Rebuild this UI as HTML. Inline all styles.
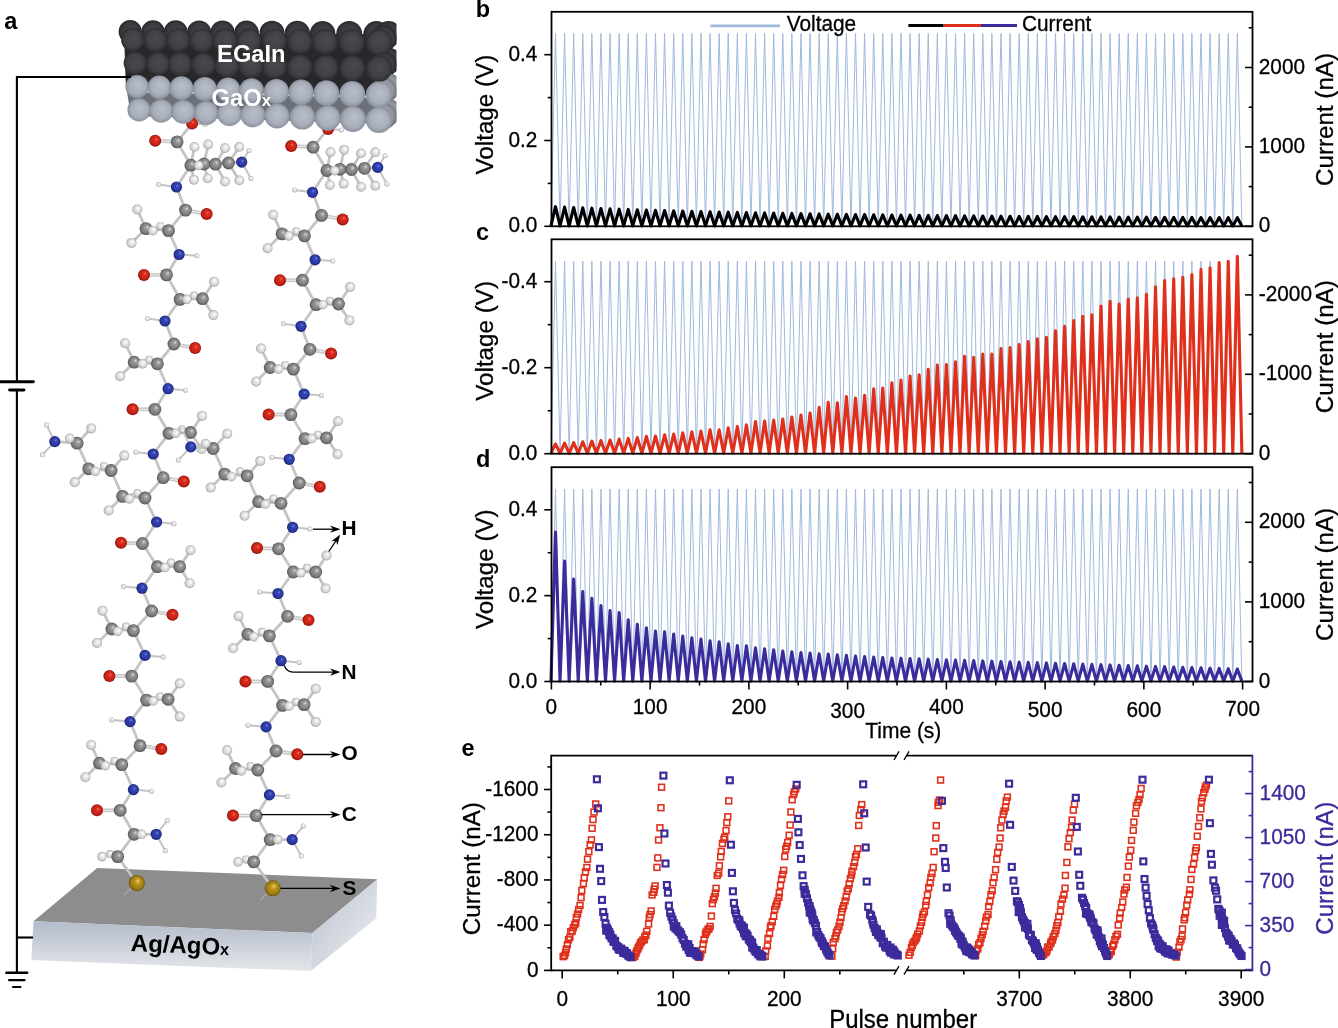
<!DOCTYPE html><html><head><meta charset="utf-8"><title>Figure</title><style>html,body{margin:0;padding:0;background:#fff;width:1338px;height:1028px;overflow:hidden}svg{display:block;will-change:transform}text{font-family:"Liberation Sans",sans-serif}</style></head><body><svg width="1338" height="1028" viewBox="0 0 1338 1028"><defs>
<radialGradient id="gC" cx="0.5" cy="0.5" r="0.5" fx="0.62" fy="0.36"><stop offset="0" stop-color="#dadada"/><stop offset="0.3" stop-color="#9a9a9a"/><stop offset="0.75" stop-color="#7c7c7c"/><stop offset="1" stop-color="#555555"/></radialGradient>
<radialGradient id="gO" cx="0.5" cy="0.5" r="0.5" fx="0.6" fy="0.36"><stop offset="0" stop-color="#f26a5c"/><stop offset="0.3" stop-color="#dc2c1e"/><stop offset="0.75" stop-color="#c42216"/><stop offset="1" stop-color="#8a120c"/></radialGradient>
<radialGradient id="gN" cx="0.5" cy="0.5" r="0.5" fx="0.6" fy="0.36"><stop offset="0" stop-color="#7282d8"/><stop offset="0.3" stop-color="#3444b2"/><stop offset="0.75" stop-color="#2a38a4"/><stop offset="1" stop-color="#18206e"/></radialGradient>
<radialGradient id="gH" cx="0.5" cy="0.5" r="0.5" fx="0.62" fy="0.36"><stop offset="0" stop-color="#ffffff"/><stop offset="0.35" stop-color="#ececec"/><stop offset="0.8" stop-color="#cfcfcf"/><stop offset="1" stop-color="#9c9c9c"/></radialGradient>
<radialGradient id="gS" cx="0.5" cy="0.5" r="0.5" fx="0.58" fy="0.34"><stop offset="0" stop-color="#eccd5a"/><stop offset="0.35" stop-color="#bb951e"/><stop offset="0.8" stop-color="#9c7a12"/><stop offset="1" stop-color="#6a520a"/></radialGradient>
<radialGradient id="gE" cx="0.5" cy="0.5" r="0.5" fx="0.55" fy="0.4"><stop offset="0" stop-color="#4a4a4e"/><stop offset="0.7" stop-color="#414145"/><stop offset="1" stop-color="#2e2e32"/></radialGradient>
<radialGradient id="gEb" cx="0.5" cy="0.5" r="0.5" fx="0.55" fy="0.4"><stop offset="0" stop-color="#444448"/><stop offset="0.7" stop-color="#3a3a3e"/><stop offset="1" stop-color="#28282c"/></radialGradient>
<radialGradient id="gG" cx="0.5" cy="0.5" r="0.5" fx="0.55" fy="0.4"><stop offset="0" stop-color="#b8bfc9"/><stop offset="0.7" stop-color="#a8afba"/><stop offset="1" stop-color="#8b929d"/></radialGradient>
<radialGradient id="gGb" cx="0.5" cy="0.5" r="0.5" fx="0.55" fy="0.4"><stop offset="0" stop-color="#9ea5b0"/><stop offset="0.7" stop-color="#8e95a0"/><stop offset="1" stop-color="#70767f"/></radialGradient>
<linearGradient id="gFront" x1="0" y1="0" x2="0" y2="1"><stop offset="0" stop-color="#b3bccb"/><stop offset="1" stop-color="#e4e6e9"/></linearGradient>
<linearGradient id="gSide" x1="0" y1="0" x2="1" y2="1"><stop offset="0" stop-color="#b8c0ce"/><stop offset="1" stop-color="#eef0f2"/></linearGradient>
</defs><rect width="1338" height="1028" fill="#fff"/><line x1="192.1" y1="123.6" x2="177.1" y2="141.9" stroke="#c4c4c4" stroke-width="2.8"/><line x1="192.1" y1="123.6" x2="205.2" y2="124.6" stroke="#c4c4c4" stroke-width="2.0"/><line x1="177.04" y1="143" x2="155.14" y2="141.8" stroke="#c9c9c9" stroke-width="1.6"/><line x1="177.16" y1="140.8" x2="155.26" y2="139.6" stroke="#c9c9c9" stroke-width="1.6"/><line x1="177.1" y1="141.9" x2="190.9" y2="165.2" stroke="#c4c4c4" stroke-width="2.8"/><line x1="190.9" y1="165.2" x2="204" y2="164" stroke="#c4c4c4" stroke-width="2.8"/><line x1="204" y1="164" x2="215.4" y2="164.2" stroke="#c4c4c4" stroke-width="2.8"/><line x1="215.4" y1="164.2" x2="228.5" y2="163" stroke="#c4c4c4" stroke-width="2.8"/><line x1="228.5" y1="163" x2="241.7" y2="162.1" stroke="#c4c4c4" stroke-width="2.8"/><line x1="241.7" y1="162.1" x2="250.9" y2="178.6" stroke="#c4c4c4" stroke-width="2.0"/><line x1="241.7" y1="162.1" x2="249" y2="150.5" stroke="#c4c4c4" stroke-width="2.0"/><line x1="190.9" y1="165.2" x2="194.5" y2="146.9" stroke="#c4c4c4" stroke-width="2.8"/><line x1="190.9" y1="165.2" x2="193.9" y2="179.8" stroke="#c4c4c4" stroke-width="2.8"/><line x1="204" y1="164" x2="208.2" y2="144.5" stroke="#c4c4c4" stroke-width="2.8"/><line x1="204" y1="164" x2="207.6" y2="178.4" stroke="#c4c4c4" stroke-width="2.8"/><line x1="215.4" y1="164.2" x2="225" y2="148.1" stroke="#c4c4c4" stroke-width="2.8"/><line x1="215.4" y1="164.2" x2="225" y2="181.6" stroke="#c4c4c4" stroke-width="2.8"/><line x1="228.5" y1="163" x2="239.3" y2="146.9" stroke="#c4c4c4" stroke-width="2.8"/><line x1="228.5" y1="163" x2="239.3" y2="180.4" stroke="#c4c4c4" stroke-width="2.8"/><line x1="190.9" y1="165.2" x2="176.5" y2="187" stroke="#c4c4c4" stroke-width="2.8"/><line x1="176.5" y1="187" x2="158.6" y2="184.6" stroke="#c4c4c4" stroke-width="2.0"/><line x1="176.5" y1="187" x2="185.5" y2="210.1" stroke="#c4c4c4" stroke-width="2.8"/><line x1="185.7" y1="209.02" x2="206.9" y2="213.02" stroke="#c9c9c9" stroke-width="1.6"/><line x1="185.3" y1="211.18" x2="206.5" y2="215.18" stroke="#c9c9c9" stroke-width="1.6"/><line x1="185.5" y1="210.1" x2="168.5" y2="230.6" stroke="#c4c4c4" stroke-width="2.8"/><line x1="168.5" y1="230.6" x2="146" y2="228.6" stroke="#c4c4c4" stroke-width="2.8"/><line x1="168.5" y1="230.6" x2="160.3" y2="225.9" stroke="#c4c4c4" stroke-width="2.0"/><line x1="146" y1="228.6" x2="137.2" y2="209.5" stroke="#c4c4c4" stroke-width="2.8"/><line x1="146" y1="228.6" x2="131.5" y2="242.9" stroke="#c4c4c4" stroke-width="2.8"/><line x1="168.5" y1="230.6" x2="179.1" y2="254.5" stroke="#c4c4c4" stroke-width="2.8"/><line x1="179.1" y1="254.5" x2="196.8" y2="255.8" stroke="#c4c4c4" stroke-width="2.0"/><line x1="179.1" y1="254.5" x2="166.5" y2="274.9" stroke="#c4c4c4" stroke-width="2.8"/><line x1="166.5" y1="276" x2="144" y2="276" stroke="#c9c9c9" stroke-width="1.6"/><line x1="166.5" y1="273.8" x2="144" y2="273.8" stroke="#c9c9c9" stroke-width="1.6"/><line x1="166.5" y1="274.9" x2="180.1" y2="299.4" stroke="#c4c4c4" stroke-width="2.8"/><line x1="180.1" y1="299.4" x2="202.5" y2="298.7" stroke="#c4c4c4" stroke-width="2.8"/><line x1="180.1" y1="299.4" x2="194" y2="295.5" stroke="#c4c4c4" stroke-width="2.0"/><line x1="202.5" y1="298.7" x2="214.1" y2="281.7" stroke="#c4c4c4" stroke-width="2.8"/><line x1="202.5" y1="298.7" x2="213.4" y2="315.1" stroke="#c4c4c4" stroke-width="2.8"/><line x1="180.1" y1="299.4" x2="165" y2="321" stroke="#c4c4c4" stroke-width="2.8"/><line x1="165" y1="321" x2="147.4" y2="318.5" stroke="#c4c4c4" stroke-width="2.0"/><line x1="165" y1="321" x2="173.9" y2="344" stroke="#c4c4c4" stroke-width="2.8"/><line x1="174.11" y1="342.92" x2="195.31" y2="347.02" stroke="#c9c9c9" stroke-width="1.6"/><line x1="173.69" y1="345.08" x2="194.89" y2="349.18" stroke="#c9c9c9" stroke-width="1.6"/><line x1="173.9" y1="344" x2="157.4" y2="363.8" stroke="#c4c4c4" stroke-width="2.8"/><line x1="157.4" y1="363.8" x2="134.2" y2="362.2" stroke="#c4c4c4" stroke-width="2.8"/><line x1="157.4" y1="363.8" x2="149.1" y2="359.7" stroke="#c4c4c4" stroke-width="2.0"/><line x1="134.2" y1="362.2" x2="125.1" y2="343.2" stroke="#c4c4c4" stroke-width="2.8"/><line x1="134.2" y1="362.2" x2="120.2" y2="376.2" stroke="#c4c4c4" stroke-width="2.8"/><line x1="157.4" y1="363.8" x2="168.1" y2="388.7" stroke="#c4c4c4" stroke-width="2.8"/><line x1="168.1" y1="388.7" x2="185.5" y2="390.3" stroke="#c4c4c4" stroke-width="2.0"/><line x1="168.1" y1="388.7" x2="154.9" y2="409.3" stroke="#c4c4c4" stroke-width="2.8"/><line x1="154.9" y1="410.4" x2="132.6" y2="410.4" stroke="#c9c9c9" stroke-width="1.6"/><line x1="154.9" y1="408.2" x2="132.6" y2="408.2" stroke="#c9c9c9" stroke-width="1.6"/><line x1="154.9" y1="409.3" x2="169" y2="433.3" stroke="#c4c4c4" stroke-width="2.8"/><line x1="169" y1="433.3" x2="190.5" y2="432.5" stroke="#c4c4c4" stroke-width="2.8"/><line x1="169" y1="433.3" x2="182" y2="429.5" stroke="#c4c4c4" stroke-width="2.0"/><line x1="190.5" y1="432.5" x2="202" y2="415.9" stroke="#c4c4c4" stroke-width="2.8"/><line x1="190.5" y1="432.5" x2="201.5" y2="449" stroke="#c4c4c4" stroke-width="2.8"/><line x1="169" y1="433.3" x2="153.2" y2="454" stroke="#c4c4c4" stroke-width="2.8"/><line x1="153.2" y1="454" x2="135.9" y2="452.3" stroke="#c4c4c4" stroke-width="2.0"/><line x1="153.2" y1="454" x2="163.2" y2="477.7" stroke="#c4c4c4" stroke-width="2.8"/><line x1="163.39" y1="476.62" x2="183.99" y2="480.32" stroke="#c9c9c9" stroke-width="1.6"/><line x1="163.01" y1="478.78" x2="183.61" y2="482.48" stroke="#c9c9c9" stroke-width="1.6"/><line x1="163.2" y1="477.7" x2="145" y2="498" stroke="#c4c4c4" stroke-width="2.8"/><line x1="145" y1="498" x2="122.6" y2="496.4" stroke="#c4c4c4" stroke-width="2.8"/><line x1="122.6" y1="496.4" x2="108.6" y2="510.5" stroke="#c4c4c4" stroke-width="2.8"/><line x1="122.6" y1="496.4" x2="137.5" y2="493.1" stroke="#c4c4c4" stroke-width="2.0"/><line x1="122.6" y1="496.4" x2="111.1" y2="470.5" stroke="#c4c4c4" stroke-width="2.8"/><line x1="111.1" y1="470.5" x2="124.3" y2="455.6" stroke="#c4c4c4" stroke-width="2.8"/><line x1="111.1" y1="470.5" x2="88.7" y2="468.8" stroke="#c4c4c4" stroke-width="2.8"/><line x1="88.7" y1="468.8" x2="74.7" y2="482.3" stroke="#c4c4c4" stroke-width="2.8"/><line x1="88.7" y1="468.8" x2="77.1" y2="443.2" stroke="#c4c4c4" stroke-width="2.8"/><line x1="77.1" y1="443.2" x2="91.2" y2="428.4" stroke="#c4c4c4" stroke-width="2.8"/><line x1="77.1" y1="443.2" x2="54.8" y2="441.6" stroke="#c4c4c4" stroke-width="2.8"/><line x1="54.8" y1="441.6" x2="46.5" y2="425" stroke="#c4c4c4" stroke-width="2.0"/><line x1="54.8" y1="441.6" x2="42.4" y2="454.8" stroke="#c4c4c4" stroke-width="2.0"/><line x1="145" y1="498" x2="156.6" y2="522" stroke="#c4c4c4" stroke-width="2.8"/><line x1="156.6" y1="522" x2="173.9" y2="523.7" stroke="#c4c4c4" stroke-width="2.0"/><line x1="156.6" y1="522" x2="142.5" y2="543.5" stroke="#c4c4c4" stroke-width="2.8"/><line x1="142.46" y1="544.6" x2="120.96" y2="543.8" stroke="#c9c9c9" stroke-width="1.6"/><line x1="142.54" y1="542.4" x2="121.04" y2="541.6" stroke="#c9c9c9" stroke-width="1.6"/><line x1="142.5" y1="543.5" x2="157.4" y2="566.7" stroke="#c4c4c4" stroke-width="2.8"/><line x1="157.4" y1="566.7" x2="179.7" y2="566.7" stroke="#c4c4c4" stroke-width="2.8"/><line x1="157.4" y1="566.7" x2="171" y2="562.5" stroke="#c4c4c4" stroke-width="2.0"/><line x1="179.7" y1="566.7" x2="190.5" y2="550.2" stroke="#c4c4c4" stroke-width="2.8"/><line x1="179.7" y1="566.7" x2="189.6" y2="583.2" stroke="#c4c4c4" stroke-width="2.8"/><line x1="157.4" y1="566.7" x2="142" y2="588.2" stroke="#c4c4c4" stroke-width="2.8"/><line x1="142" y1="588.2" x2="123.5" y2="586.6" stroke="#c4c4c4" stroke-width="2.0"/><line x1="142" y1="588.2" x2="151.6" y2="611" stroke="#c4c4c4" stroke-width="2.8"/><line x1="151.8" y1="609.92" x2="172.7" y2="613.72" stroke="#c9c9c9" stroke-width="1.6"/><line x1="151.4" y1="612.08" x2="172.3" y2="615.88" stroke="#c9c9c9" stroke-width="1.6"/><line x1="151.6" y1="611" x2="133.4" y2="630.6" stroke="#c4c4c4" stroke-width="2.8"/><line x1="133.4" y1="630.6" x2="111.9" y2="629" stroke="#c4c4c4" stroke-width="2.8"/><line x1="133.4" y1="630.6" x2="126" y2="626.5" stroke="#c4c4c4" stroke-width="2.0"/><line x1="111.9" y1="629" x2="102.5" y2="610.8" stroke="#c4c4c4" stroke-width="2.8"/><line x1="111.9" y1="629" x2="97" y2="643" stroke="#c4c4c4" stroke-width="2.8"/><line x1="133.4" y1="630.6" x2="145" y2="655.4" stroke="#c4c4c4" stroke-width="2.8"/><line x1="145" y1="655.4" x2="163.2" y2="657.1" stroke="#c4c4c4" stroke-width="2.0"/><line x1="145" y1="655.4" x2="131.7" y2="676.1" stroke="#c4c4c4" stroke-width="2.8"/><line x1="131.7" y1="677.2" x2="109.4" y2="677.2" stroke="#c9c9c9" stroke-width="1.6"/><line x1="131.7" y1="675" x2="109.4" y2="675" stroke="#c9c9c9" stroke-width="1.6"/><line x1="131.7" y1="676.1" x2="146.6" y2="700.1" stroke="#c4c4c4" stroke-width="2.8"/><line x1="146.6" y1="700.1" x2="168.1" y2="699.3" stroke="#c4c4c4" stroke-width="2.8"/><line x1="146.6" y1="700.1" x2="160" y2="696.5" stroke="#c4c4c4" stroke-width="2.0"/><line x1="168.1" y1="699.3" x2="179.7" y2="683.5" stroke="#c4c4c4" stroke-width="2.8"/><line x1="168.1" y1="699.3" x2="179.7" y2="716.6" stroke="#c4c4c4" stroke-width="2.8"/><line x1="146.6" y1="700.1" x2="130.1" y2="721.6" stroke="#c4c4c4" stroke-width="2.8"/><line x1="130.1" y1="721.6" x2="111.9" y2="719.9" stroke="#c4c4c4" stroke-width="2.0"/><line x1="130.1" y1="721.6" x2="140" y2="745.7" stroke="#c4c4c4" stroke-width="2.8"/><line x1="140.17" y1="744.61" x2="161.47" y2="747.91" stroke="#c9c9c9" stroke-width="1.6"/><line x1="139.83" y1="746.79" x2="161.13" y2="750.09" stroke="#c9c9c9" stroke-width="1.6"/><line x1="140" y1="745.7" x2="121.8" y2="764.7" stroke="#c4c4c4" stroke-width="2.8"/><line x1="121.8" y1="764.7" x2="99.5" y2="763.2" stroke="#c4c4c4" stroke-width="2.8"/><line x1="121.8" y1="764.7" x2="114.4" y2="760.7" stroke="#c4c4c4" stroke-width="2.0"/><line x1="99.5" y1="763.2" x2="91.2" y2="745" stroke="#c4c4c4" stroke-width="2.8"/><line x1="99.5" y1="763.2" x2="85.4" y2="777.2" stroke="#c4c4c4" stroke-width="2.8"/><line x1="121.8" y1="764.7" x2="133.4" y2="789.6" stroke="#c4c4c4" stroke-width="2.8"/><line x1="133.4" y1="789.6" x2="151.6" y2="791.3" stroke="#c4c4c4" stroke-width="2.0"/><line x1="133.4" y1="789.6" x2="120.2" y2="810.3" stroke="#c4c4c4" stroke-width="2.8"/><line x1="120.2" y1="811.4" x2="97" y2="811.4" stroke="#c9c9c9" stroke-width="1.6"/><line x1="120.2" y1="809.2" x2="97" y2="809.2" stroke="#c9c9c9" stroke-width="1.6"/><line x1="120.2" y1="810.3" x2="134.2" y2="834.3" stroke="#c4c4c4" stroke-width="2.8"/><line x1="134.2" y1="834.3" x2="156.2" y2="834.3" stroke="#c4c4c4" stroke-width="2.8"/><line x1="156.2" y1="834.3" x2="167.3" y2="820.6" stroke="#c4c4c4" stroke-width="2.0"/><line x1="156.2" y1="834.3" x2="165.3" y2="850.8" stroke="#c4c4c4" stroke-width="2.0"/><line x1="134.2" y1="834.3" x2="117.7" y2="856.6" stroke="#c4c4c4" stroke-width="2.8"/><line x1="117.7" y1="856.6" x2="110.2" y2="854.1" stroke="#c4c4c4" stroke-width="2.0"/><line x1="117.7" y1="856.6" x2="136.8" y2="883" stroke="#c4c4c4" stroke-width="2.8"/><line x1="136.8" y1="883" x2="123.8" y2="895" stroke="#b8b8b8" stroke-width="1.4" opacity="0.7"/><circle cx="160.3" cy="225.9" r="4.0" fill="url(#gH)"/><circle cx="194" cy="295.5" r="4.0" fill="url(#gH)"/><circle cx="149.1" cy="359.7" r="4.0" fill="url(#gH)"/><circle cx="182" cy="429.5" r="4.0" fill="url(#gH)"/><circle cx="137.5" cy="493.1" r="4.0" fill="url(#gH)"/><circle cx="104" cy="466" r="4.0" fill="url(#gH)"/><circle cx="171" cy="562.5" r="4.0" fill="url(#gH)"/><circle cx="126" cy="626.5" r="4.0" fill="url(#gH)"/><circle cx="160" cy="696.5" r="4.0" fill="url(#gH)"/><circle cx="114.4" cy="760.7" r="4.0" fill="url(#gH)"/><circle cx="110.2" cy="854.1" r="4.0" fill="url(#gH)"/><circle cx="205.2" cy="124.6" r="2.5" fill="url(#gH)"/><circle cx="250.9" cy="178.6" r="2.5" fill="url(#gH)"/><circle cx="249" cy="150.5" r="2.5" fill="url(#gH)"/><circle cx="158.6" cy="184.6" r="2.5" fill="url(#gH)"/><circle cx="196.8" cy="255.8" r="2.5" fill="url(#gH)"/><circle cx="147.4" cy="318.5" r="2.5" fill="url(#gH)"/><circle cx="185.5" cy="390.3" r="2.5" fill="url(#gH)"/><circle cx="135.9" cy="452.3" r="2.5" fill="url(#gH)"/><circle cx="46.5" cy="425" r="2.5" fill="url(#gH)"/><circle cx="42.4" cy="454.8" r="2.5" fill="url(#gH)"/><circle cx="173.9" cy="523.7" r="2.5" fill="url(#gH)"/><circle cx="123.5" cy="586.6" r="2.5" fill="url(#gH)"/><circle cx="163.2" cy="657.1" r="2.5" fill="url(#gH)"/><circle cx="111.9" cy="719.9" r="2.5" fill="url(#gH)"/><circle cx="151.6" cy="791.3" r="2.5" fill="url(#gH)"/><circle cx="167.3" cy="820.6" r="2.5" fill="url(#gH)"/><circle cx="165.3" cy="850.8" r="2.5" fill="url(#gH)"/><circle cx="194.5" cy="146.9" r="4.9" fill="url(#gH)"/><circle cx="208.2" cy="144.5" r="4.9" fill="url(#gH)"/><circle cx="225" cy="148.1" r="4.9" fill="url(#gH)"/><circle cx="239.3" cy="146.9" r="4.9" fill="url(#gH)"/><circle cx="193.9" cy="179.8" r="4.9" fill="url(#gH)"/><circle cx="207.6" cy="178.4" r="4.9" fill="url(#gH)"/><circle cx="225" cy="181.6" r="4.9" fill="url(#gH)"/><circle cx="239.3" cy="180.4" r="4.9" fill="url(#gH)"/><circle cx="137.2" cy="209.5" r="5.0" fill="url(#gH)"/><circle cx="131.5" cy="242.9" r="5.0" fill="url(#gH)"/><circle cx="214.1" cy="281.7" r="5.0" fill="url(#gH)"/><circle cx="213.4" cy="315.1" r="5.0" fill="url(#gH)"/><circle cx="125.1" cy="343.2" r="5.0" fill="url(#gH)"/><circle cx="120.2" cy="376.2" r="5.0" fill="url(#gH)"/><circle cx="202" cy="415.9" r="5.0" fill="url(#gH)"/><circle cx="201.5" cy="449" r="5.0" fill="url(#gH)"/><circle cx="108.6" cy="510.5" r="5.0" fill="url(#gH)"/><circle cx="124.3" cy="455.6" r="5.0" fill="url(#gH)"/><circle cx="74.7" cy="482.3" r="5.0" fill="url(#gH)"/><circle cx="91.2" cy="428.4" r="5.0" fill="url(#gH)"/><circle cx="190.5" cy="550.2" r="5.0" fill="url(#gH)"/><circle cx="189.6" cy="583.2" r="5.0" fill="url(#gH)"/><circle cx="102.5" cy="610.8" r="5.0" fill="url(#gH)"/><circle cx="97" cy="643" r="5.0" fill="url(#gH)"/><circle cx="179.7" cy="683.5" r="5.0" fill="url(#gH)"/><circle cx="179.7" cy="716.6" r="5.0" fill="url(#gH)"/><circle cx="91.2" cy="745" r="5.0" fill="url(#gH)"/><circle cx="85.4" cy="777.2" r="5.0" fill="url(#gH)"/><circle cx="192.1" cy="123.6" r="6.0" fill="url(#gO)"/><circle cx="177.1" cy="141.9" r="6.4" fill="url(#gC)"/><circle cx="155.2" cy="140.7" r="6.0" fill="url(#gO)"/><circle cx="190.9" cy="165.2" r="6.4" fill="url(#gC)"/><circle cx="204" cy="164" r="6.4" fill="url(#gC)"/><circle cx="215.4" cy="164.2" r="6.4" fill="url(#gC)"/><circle cx="228.5" cy="163" r="6.4" fill="url(#gC)"/><circle cx="241.7" cy="162.1" r="5.6" fill="url(#gN)"/><circle cx="176.5" cy="187" r="5.6" fill="url(#gN)"/><circle cx="185.5" cy="210.1" r="6.4" fill="url(#gC)"/><circle cx="206.7" cy="214.1" r="6.0" fill="url(#gO)"/><circle cx="168.5" cy="230.6" r="6.4" fill="url(#gC)"/><circle cx="146" cy="228.6" r="6.4" fill="url(#gC)"/><circle cx="179.1" cy="254.5" r="5.6" fill="url(#gN)"/><circle cx="166.5" cy="274.9" r="6.4" fill="url(#gC)"/><circle cx="144" cy="274.9" r="6.0" fill="url(#gO)"/><circle cx="180.1" cy="299.4" r="6.4" fill="url(#gC)"/><circle cx="202.5" cy="298.7" r="6.4" fill="url(#gC)"/><circle cx="165" cy="321" r="5.6" fill="url(#gN)"/><circle cx="173.9" cy="344" r="6.4" fill="url(#gC)"/><circle cx="195.1" cy="348.1" r="6.0" fill="url(#gO)"/><circle cx="157.4" cy="363.8" r="6.4" fill="url(#gC)"/><circle cx="134.2" cy="362.2" r="6.4" fill="url(#gC)"/><circle cx="168.1" cy="388.7" r="5.6" fill="url(#gN)"/><circle cx="154.9" cy="409.3" r="6.4" fill="url(#gC)"/><circle cx="132.6" cy="409.3" r="6.0" fill="url(#gO)"/><circle cx="169" cy="433.3" r="6.4" fill="url(#gC)"/><circle cx="190.5" cy="432.5" r="6.4" fill="url(#gC)"/><circle cx="153.2" cy="454" r="5.6" fill="url(#gN)"/><circle cx="163.2" cy="477.7" r="6.4" fill="url(#gC)"/><circle cx="183.8" cy="481.4" r="6.0" fill="url(#gO)"/><circle cx="145" cy="498" r="6.4" fill="url(#gC)"/><circle cx="122.6" cy="496.4" r="6.4" fill="url(#gC)"/><circle cx="111.1" cy="470.5" r="6.4" fill="url(#gC)"/><circle cx="88.7" cy="468.8" r="6.4" fill="url(#gC)"/><circle cx="77.1" cy="443.2" r="6.4" fill="url(#gC)"/><circle cx="54.8" cy="441.6" r="5.6" fill="url(#gN)"/><circle cx="156.6" cy="522" r="5.6" fill="url(#gN)"/><circle cx="142.5" cy="543.5" r="6.4" fill="url(#gC)"/><circle cx="121" cy="542.7" r="6.0" fill="url(#gO)"/><circle cx="157.4" cy="566.7" r="6.4" fill="url(#gC)"/><circle cx="179.7" cy="566.7" r="6.4" fill="url(#gC)"/><circle cx="142" cy="588.2" r="5.6" fill="url(#gN)"/><circle cx="151.6" cy="611" r="6.4" fill="url(#gC)"/><circle cx="172.5" cy="614.8" r="6.0" fill="url(#gO)"/><circle cx="133.4" cy="630.6" r="6.4" fill="url(#gC)"/><circle cx="111.9" cy="629" r="6.4" fill="url(#gC)"/><circle cx="145" cy="655.4" r="5.6" fill="url(#gN)"/><circle cx="131.7" cy="676.1" r="6.4" fill="url(#gC)"/><circle cx="109.4" cy="676.1" r="6.0" fill="url(#gO)"/><circle cx="146.6" cy="700.1" r="6.4" fill="url(#gC)"/><circle cx="168.1" cy="699.3" r="6.4" fill="url(#gC)"/><circle cx="130.1" cy="721.6" r="5.6" fill="url(#gN)"/><circle cx="140" cy="745.7" r="6.4" fill="url(#gC)"/><circle cx="161.3" cy="749" r="6.0" fill="url(#gO)"/><circle cx="121.8" cy="764.7" r="6.4" fill="url(#gC)"/><circle cx="99.5" cy="763.2" r="6.4" fill="url(#gC)"/><circle cx="133.4" cy="789.6" r="5.6" fill="url(#gN)"/><circle cx="120.2" cy="810.3" r="6.4" fill="url(#gC)"/><circle cx="97" cy="810.3" r="6.0" fill="url(#gO)"/><circle cx="134.2" cy="834.3" r="6.4" fill="url(#gC)"/><circle cx="156.2" cy="834.3" r="5.6" fill="url(#gN)"/><circle cx="117.7" cy="856.6" r="6.4" fill="url(#gC)"/><circle cx="136.8" cy="883" r="8.0" fill="url(#gS)"/><circle cx="198.7" cy="165.4" r="4.8" fill="url(#gH)"/><circle cx="152.8" cy="230.6" r="4.8" fill="url(#gH)"/><circle cx="186.9" cy="299.4" r="4.8" fill="url(#gH)"/><circle cx="142.5" cy="363.8" r="4.8" fill="url(#gH)"/><circle cx="175.6" cy="433.3" r="4.8" fill="url(#gH)"/><circle cx="129.3" cy="498.9" r="4.8" fill="url(#gH)"/><circle cx="95.3" cy="471.3" r="4.8" fill="url(#gH)"/><circle cx="69.7" cy="438.3" r="4.8" fill="url(#gH)"/><circle cx="164.8" cy="567.5" r="4.8" fill="url(#gH)"/><circle cx="117.7" cy="631.4" r="4.8" fill="url(#gH)"/><circle cx="153.2" cy="700.9" r="4.8" fill="url(#gH)"/><circle cx="105.3" cy="765.6" r="4.8" fill="url(#gH)"/><circle cx="141.7" cy="834.3" r="4.8" fill="url(#gH)"/><circle cx="102" cy="856.6" r="4.8" fill="url(#gH)"/><line x1="328.1" y1="128.9" x2="313.1" y2="147.2" stroke="#c4c4c4" stroke-width="2.8"/><line x1="328.1" y1="128.9" x2="341.2" y2="129.9" stroke="#c4c4c4" stroke-width="2.0"/><line x1="313.04" y1="148.3" x2="291.14" y2="147.1" stroke="#c9c9c9" stroke-width="1.6"/><line x1="313.16" y1="146.1" x2="291.26" y2="144.9" stroke="#c9c9c9" stroke-width="1.6"/><line x1="313.1" y1="147.2" x2="326.9" y2="170.5" stroke="#c4c4c4" stroke-width="2.8"/><line x1="326.9" y1="170.5" x2="340" y2="169.3" stroke="#c4c4c4" stroke-width="2.8"/><line x1="340" y1="169.3" x2="351.4" y2="169.5" stroke="#c4c4c4" stroke-width="2.8"/><line x1="351.4" y1="169.5" x2="364.5" y2="168.3" stroke="#c4c4c4" stroke-width="2.8"/><line x1="364.5" y1="168.3" x2="377.7" y2="167.4" stroke="#c4c4c4" stroke-width="2.8"/><line x1="377.7" y1="167.4" x2="386.9" y2="183.9" stroke="#c4c4c4" stroke-width="2.0"/><line x1="377.7" y1="167.4" x2="385" y2="155.8" stroke="#c4c4c4" stroke-width="2.0"/><line x1="326.9" y1="170.5" x2="330.5" y2="152.2" stroke="#c4c4c4" stroke-width="2.8"/><line x1="326.9" y1="170.5" x2="329.9" y2="185.1" stroke="#c4c4c4" stroke-width="2.8"/><line x1="340" y1="169.3" x2="344.2" y2="149.8" stroke="#c4c4c4" stroke-width="2.8"/><line x1="340" y1="169.3" x2="343.6" y2="183.7" stroke="#c4c4c4" stroke-width="2.8"/><line x1="351.4" y1="169.5" x2="361" y2="153.4" stroke="#c4c4c4" stroke-width="2.8"/><line x1="351.4" y1="169.5" x2="361" y2="186.9" stroke="#c4c4c4" stroke-width="2.8"/><line x1="364.5" y1="168.3" x2="375.3" y2="152.2" stroke="#c4c4c4" stroke-width="2.8"/><line x1="364.5" y1="168.3" x2="375.3" y2="185.7" stroke="#c4c4c4" stroke-width="2.8"/><line x1="326.9" y1="170.5" x2="312.5" y2="192.3" stroke="#c4c4c4" stroke-width="2.8"/><line x1="312.5" y1="192.3" x2="294.6" y2="189.9" stroke="#c4c4c4" stroke-width="2.0"/><line x1="312.5" y1="192.3" x2="321.5" y2="215.4" stroke="#c4c4c4" stroke-width="2.8"/><line x1="321.7" y1="214.32" x2="342.9" y2="218.32" stroke="#c9c9c9" stroke-width="1.6"/><line x1="321.3" y1="216.48" x2="342.5" y2="220.48" stroke="#c9c9c9" stroke-width="1.6"/><line x1="321.5" y1="215.4" x2="304.5" y2="235.9" stroke="#c4c4c4" stroke-width="2.8"/><line x1="304.5" y1="235.9" x2="282" y2="233.9" stroke="#c4c4c4" stroke-width="2.8"/><line x1="304.5" y1="235.9" x2="296.3" y2="231.2" stroke="#c4c4c4" stroke-width="2.0"/><line x1="282" y1="233.9" x2="273.2" y2="214.8" stroke="#c4c4c4" stroke-width="2.8"/><line x1="282" y1="233.9" x2="267.5" y2="248.2" stroke="#c4c4c4" stroke-width="2.8"/><line x1="304.5" y1="235.9" x2="315.1" y2="259.8" stroke="#c4c4c4" stroke-width="2.8"/><line x1="315.1" y1="259.8" x2="332.8" y2="261.1" stroke="#c4c4c4" stroke-width="2.0"/><line x1="315.1" y1="259.8" x2="302.5" y2="280.2" stroke="#c4c4c4" stroke-width="2.8"/><line x1="302.5" y1="281.3" x2="280" y2="281.3" stroke="#c9c9c9" stroke-width="1.6"/><line x1="302.5" y1="279.1" x2="280" y2="279.1" stroke="#c9c9c9" stroke-width="1.6"/><line x1="302.5" y1="280.2" x2="316.1" y2="304.7" stroke="#c4c4c4" stroke-width="2.8"/><line x1="316.1" y1="304.7" x2="338.5" y2="304" stroke="#c4c4c4" stroke-width="2.8"/><line x1="316.1" y1="304.7" x2="330" y2="300.8" stroke="#c4c4c4" stroke-width="2.0"/><line x1="338.5" y1="304" x2="350.1" y2="287" stroke="#c4c4c4" stroke-width="2.8"/><line x1="338.5" y1="304" x2="349.4" y2="320.4" stroke="#c4c4c4" stroke-width="2.8"/><line x1="316.1" y1="304.7" x2="301" y2="326.3" stroke="#c4c4c4" stroke-width="2.8"/><line x1="301" y1="326.3" x2="283.4" y2="323.8" stroke="#c4c4c4" stroke-width="2.0"/><line x1="301" y1="326.3" x2="309.9" y2="349.3" stroke="#c4c4c4" stroke-width="2.8"/><line x1="310.11" y1="348.22" x2="331.31" y2="352.32" stroke="#c9c9c9" stroke-width="1.6"/><line x1="309.69" y1="350.38" x2="330.89" y2="354.48" stroke="#c9c9c9" stroke-width="1.6"/><line x1="309.9" y1="349.3" x2="293.4" y2="369.1" stroke="#c4c4c4" stroke-width="2.8"/><line x1="293.4" y1="369.1" x2="270.2" y2="367.5" stroke="#c4c4c4" stroke-width="2.8"/><line x1="293.4" y1="369.1" x2="285.1" y2="365" stroke="#c4c4c4" stroke-width="2.0"/><line x1="270.2" y1="367.5" x2="261.1" y2="348.5" stroke="#c4c4c4" stroke-width="2.8"/><line x1="270.2" y1="367.5" x2="256.2" y2="381.5" stroke="#c4c4c4" stroke-width="2.8"/><line x1="293.4" y1="369.1" x2="304.1" y2="394" stroke="#c4c4c4" stroke-width="2.8"/><line x1="304.1" y1="394" x2="321.5" y2="395.6" stroke="#c4c4c4" stroke-width="2.0"/><line x1="304.1" y1="394" x2="290.9" y2="414.6" stroke="#c4c4c4" stroke-width="2.8"/><line x1="290.9" y1="415.7" x2="268.6" y2="415.7" stroke="#c9c9c9" stroke-width="1.6"/><line x1="290.9" y1="413.5" x2="268.6" y2="413.5" stroke="#c9c9c9" stroke-width="1.6"/><line x1="290.9" y1="414.6" x2="305" y2="438.6" stroke="#c4c4c4" stroke-width="2.8"/><line x1="305" y1="438.6" x2="326.5" y2="437.8" stroke="#c4c4c4" stroke-width="2.8"/><line x1="305" y1="438.6" x2="318" y2="434.8" stroke="#c4c4c4" stroke-width="2.0"/><line x1="326.5" y1="437.8" x2="338" y2="421.2" stroke="#c4c4c4" stroke-width="2.8"/><line x1="326.5" y1="437.8" x2="337.5" y2="454.3" stroke="#c4c4c4" stroke-width="2.8"/><line x1="305" y1="438.6" x2="289.2" y2="459.3" stroke="#c4c4c4" stroke-width="2.8"/><line x1="289.2" y1="459.3" x2="271.9" y2="457.6" stroke="#c4c4c4" stroke-width="2.0"/><line x1="289.2" y1="459.3" x2="299.2" y2="483" stroke="#c4c4c4" stroke-width="2.8"/><line x1="299.39" y1="481.92" x2="319.99" y2="485.62" stroke="#c9c9c9" stroke-width="1.6"/><line x1="299.01" y1="484.08" x2="319.61" y2="487.78" stroke="#c9c9c9" stroke-width="1.6"/><line x1="299.2" y1="483" x2="281" y2="503.3" stroke="#c4c4c4" stroke-width="2.8"/><line x1="281" y1="503.3" x2="258.6" y2="501.7" stroke="#c4c4c4" stroke-width="2.8"/><line x1="258.6" y1="501.7" x2="244.6" y2="515.8" stroke="#c4c4c4" stroke-width="2.8"/><line x1="258.6" y1="501.7" x2="273.5" y2="498.4" stroke="#c4c4c4" stroke-width="2.0"/><line x1="258.6" y1="501.7" x2="247.1" y2="475.8" stroke="#c4c4c4" stroke-width="2.8"/><line x1="247.1" y1="475.8" x2="260.3" y2="460.9" stroke="#c4c4c4" stroke-width="2.8"/><line x1="247.1" y1="475.8" x2="224.7" y2="474.1" stroke="#c4c4c4" stroke-width="2.8"/><line x1="224.7" y1="474.1" x2="210.7" y2="487.6" stroke="#c4c4c4" stroke-width="2.8"/><line x1="224.7" y1="474.1" x2="213.1" y2="448.5" stroke="#c4c4c4" stroke-width="2.8"/><line x1="213.1" y1="448.5" x2="227.2" y2="433.7" stroke="#c4c4c4" stroke-width="2.8"/><line x1="213.1" y1="448.5" x2="190.8" y2="446.9" stroke="#c4c4c4" stroke-width="2.8"/><line x1="190.8" y1="446.9" x2="182.5" y2="430.3" stroke="#c4c4c4" stroke-width="2.0"/><line x1="190.8" y1="446.9" x2="178.4" y2="460.1" stroke="#c4c4c4" stroke-width="2.0"/><line x1="281" y1="503.3" x2="292.6" y2="527.3" stroke="#c4c4c4" stroke-width="2.8"/><line x1="292.6" y1="527.3" x2="309.9" y2="529" stroke="#c4c4c4" stroke-width="2.0"/><line x1="292.6" y1="527.3" x2="278.5" y2="548.8" stroke="#c4c4c4" stroke-width="2.8"/><line x1="278.46" y1="549.9" x2="256.96" y2="549.1" stroke="#c9c9c9" stroke-width="1.6"/><line x1="278.54" y1="547.7" x2="257.04" y2="546.9" stroke="#c9c9c9" stroke-width="1.6"/><line x1="278.5" y1="548.8" x2="293.4" y2="572" stroke="#c4c4c4" stroke-width="2.8"/><line x1="293.4" y1="572" x2="315.7" y2="572" stroke="#c4c4c4" stroke-width="2.8"/><line x1="293.4" y1="572" x2="307" y2="567.8" stroke="#c4c4c4" stroke-width="2.0"/><line x1="315.7" y1="572" x2="326.5" y2="555.5" stroke="#c4c4c4" stroke-width="2.8"/><line x1="315.7" y1="572" x2="325.6" y2="588.5" stroke="#c4c4c4" stroke-width="2.8"/><line x1="293.4" y1="572" x2="278" y2="593.5" stroke="#c4c4c4" stroke-width="2.8"/><line x1="278" y1="593.5" x2="259.5" y2="591.9" stroke="#c4c4c4" stroke-width="2.0"/><line x1="278" y1="593.5" x2="287.6" y2="616.3" stroke="#c4c4c4" stroke-width="2.8"/><line x1="287.8" y1="615.22" x2="308.7" y2="619.02" stroke="#c9c9c9" stroke-width="1.6"/><line x1="287.4" y1="617.38" x2="308.3" y2="621.18" stroke="#c9c9c9" stroke-width="1.6"/><line x1="287.6" y1="616.3" x2="269.4" y2="635.9" stroke="#c4c4c4" stroke-width="2.8"/><line x1="269.4" y1="635.9" x2="247.9" y2="634.3" stroke="#c4c4c4" stroke-width="2.8"/><line x1="269.4" y1="635.9" x2="262" y2="631.8" stroke="#c4c4c4" stroke-width="2.0"/><line x1="247.9" y1="634.3" x2="238.5" y2="616.1" stroke="#c4c4c4" stroke-width="2.8"/><line x1="247.9" y1="634.3" x2="233" y2="648.3" stroke="#c4c4c4" stroke-width="2.8"/><line x1="269.4" y1="635.9" x2="281" y2="660.7" stroke="#c4c4c4" stroke-width="2.8"/><line x1="281" y1="660.7" x2="299.2" y2="662.4" stroke="#c4c4c4" stroke-width="2.0"/><line x1="281" y1="660.7" x2="267.7" y2="681.4" stroke="#c4c4c4" stroke-width="2.8"/><line x1="267.7" y1="682.5" x2="245.4" y2="682.5" stroke="#c9c9c9" stroke-width="1.6"/><line x1="267.7" y1="680.3" x2="245.4" y2="680.3" stroke="#c9c9c9" stroke-width="1.6"/><line x1="267.7" y1="681.4" x2="282.6" y2="705.4" stroke="#c4c4c4" stroke-width="2.8"/><line x1="282.6" y1="705.4" x2="304.1" y2="704.6" stroke="#c4c4c4" stroke-width="2.8"/><line x1="282.6" y1="705.4" x2="296" y2="701.8" stroke="#c4c4c4" stroke-width="2.0"/><line x1="304.1" y1="704.6" x2="315.7" y2="688.8" stroke="#c4c4c4" stroke-width="2.8"/><line x1="304.1" y1="704.6" x2="315.7" y2="721.9" stroke="#c4c4c4" stroke-width="2.8"/><line x1="282.6" y1="705.4" x2="266.1" y2="726.9" stroke="#c4c4c4" stroke-width="2.8"/><line x1="266.1" y1="726.9" x2="247.9" y2="725.2" stroke="#c4c4c4" stroke-width="2.0"/><line x1="266.1" y1="726.9" x2="276" y2="751" stroke="#c4c4c4" stroke-width="2.8"/><line x1="276.17" y1="749.91" x2="297.47" y2="753.21" stroke="#c9c9c9" stroke-width="1.6"/><line x1="275.83" y1="752.09" x2="297.13" y2="755.39" stroke="#c9c9c9" stroke-width="1.6"/><line x1="276" y1="751" x2="257.8" y2="770" stroke="#c4c4c4" stroke-width="2.8"/><line x1="257.8" y1="770" x2="235.5" y2="768.5" stroke="#c4c4c4" stroke-width="2.8"/><line x1="257.8" y1="770" x2="250.4" y2="766" stroke="#c4c4c4" stroke-width="2.0"/><line x1="235.5" y1="768.5" x2="227.2" y2="750.3" stroke="#c4c4c4" stroke-width="2.8"/><line x1="235.5" y1="768.5" x2="221.4" y2="782.5" stroke="#c4c4c4" stroke-width="2.8"/><line x1="257.8" y1="770" x2="269.4" y2="794.9" stroke="#c4c4c4" stroke-width="2.8"/><line x1="269.4" y1="794.9" x2="287.6" y2="796.6" stroke="#c4c4c4" stroke-width="2.0"/><line x1="269.4" y1="794.9" x2="256.2" y2="815.6" stroke="#c4c4c4" stroke-width="2.8"/><line x1="256.2" y1="816.7" x2="233" y2="816.7" stroke="#c9c9c9" stroke-width="1.6"/><line x1="256.2" y1="814.5" x2="233" y2="814.5" stroke="#c9c9c9" stroke-width="1.6"/><line x1="256.2" y1="815.6" x2="270.2" y2="839.6" stroke="#c4c4c4" stroke-width="2.8"/><line x1="270.2" y1="839.6" x2="292.2" y2="839.6" stroke="#c4c4c4" stroke-width="2.8"/><line x1="292.2" y1="839.6" x2="303.3" y2="825.9" stroke="#c4c4c4" stroke-width="2.0"/><line x1="292.2" y1="839.6" x2="301.3" y2="856.1" stroke="#c4c4c4" stroke-width="2.0"/><line x1="270.2" y1="839.6" x2="253.7" y2="861.9" stroke="#c4c4c4" stroke-width="2.8"/><line x1="253.7" y1="861.9" x2="246.2" y2="859.4" stroke="#c4c4c4" stroke-width="2.0"/><line x1="253.7" y1="861.9" x2="272.8" y2="888.3" stroke="#c4c4c4" stroke-width="2.8"/><line x1="272.8" y1="888.3" x2="259.8" y2="900.3" stroke="#b8b8b8" stroke-width="1.4" opacity="0.7"/><circle cx="296.3" cy="231.2" r="4.0" fill="url(#gH)"/><circle cx="330" cy="300.8" r="4.0" fill="url(#gH)"/><circle cx="285.1" cy="365" r="4.0" fill="url(#gH)"/><circle cx="318" cy="434.8" r="4.0" fill="url(#gH)"/><circle cx="273.5" cy="498.4" r="4.0" fill="url(#gH)"/><circle cx="240" cy="471.3" r="4.0" fill="url(#gH)"/><circle cx="307" cy="567.8" r="4.0" fill="url(#gH)"/><circle cx="262" cy="631.8" r="4.0" fill="url(#gH)"/><circle cx="296" cy="701.8" r="4.0" fill="url(#gH)"/><circle cx="250.4" cy="766" r="4.0" fill="url(#gH)"/><circle cx="246.2" cy="859.4" r="4.0" fill="url(#gH)"/><circle cx="341.2" cy="129.9" r="2.5" fill="url(#gH)"/><circle cx="386.9" cy="183.9" r="2.5" fill="url(#gH)"/><circle cx="385" cy="155.8" r="2.5" fill="url(#gH)"/><circle cx="294.6" cy="189.9" r="2.5" fill="url(#gH)"/><circle cx="332.8" cy="261.1" r="2.5" fill="url(#gH)"/><circle cx="283.4" cy="323.8" r="2.5" fill="url(#gH)"/><circle cx="321.5" cy="395.6" r="2.5" fill="url(#gH)"/><circle cx="271.9" cy="457.6" r="2.5" fill="url(#gH)"/><circle cx="182.5" cy="430.3" r="2.5" fill="url(#gH)"/><circle cx="178.4" cy="460.1" r="2.5" fill="url(#gH)"/><circle cx="309.9" cy="529" r="2.5" fill="url(#gH)"/><circle cx="259.5" cy="591.9" r="2.5" fill="url(#gH)"/><circle cx="299.2" cy="662.4" r="2.5" fill="url(#gH)"/><circle cx="247.9" cy="725.2" r="2.5" fill="url(#gH)"/><circle cx="287.6" cy="796.6" r="2.5" fill="url(#gH)"/><circle cx="303.3" cy="825.9" r="2.5" fill="url(#gH)"/><circle cx="301.3" cy="856.1" r="2.5" fill="url(#gH)"/><circle cx="330.5" cy="152.2" r="4.9" fill="url(#gH)"/><circle cx="344.2" cy="149.8" r="4.9" fill="url(#gH)"/><circle cx="361" cy="153.4" r="4.9" fill="url(#gH)"/><circle cx="375.3" cy="152.2" r="4.9" fill="url(#gH)"/><circle cx="329.9" cy="185.1" r="4.9" fill="url(#gH)"/><circle cx="343.6" cy="183.7" r="4.9" fill="url(#gH)"/><circle cx="361" cy="186.9" r="4.9" fill="url(#gH)"/><circle cx="375.3" cy="185.7" r="4.9" fill="url(#gH)"/><circle cx="273.2" cy="214.8" r="5.0" fill="url(#gH)"/><circle cx="267.5" cy="248.2" r="5.0" fill="url(#gH)"/><circle cx="350.1" cy="287" r="5.0" fill="url(#gH)"/><circle cx="349.4" cy="320.4" r="5.0" fill="url(#gH)"/><circle cx="261.1" cy="348.5" r="5.0" fill="url(#gH)"/><circle cx="256.2" cy="381.5" r="5.0" fill="url(#gH)"/><circle cx="338" cy="421.2" r="5.0" fill="url(#gH)"/><circle cx="337.5" cy="454.3" r="5.0" fill="url(#gH)"/><circle cx="244.6" cy="515.8" r="5.0" fill="url(#gH)"/><circle cx="260.3" cy="460.9" r="5.0" fill="url(#gH)"/><circle cx="210.7" cy="487.6" r="5.0" fill="url(#gH)"/><circle cx="227.2" cy="433.7" r="5.0" fill="url(#gH)"/><circle cx="326.5" cy="555.5" r="5.0" fill="url(#gH)"/><circle cx="325.6" cy="588.5" r="5.0" fill="url(#gH)"/><circle cx="238.5" cy="616.1" r="5.0" fill="url(#gH)"/><circle cx="233" cy="648.3" r="5.0" fill="url(#gH)"/><circle cx="315.7" cy="688.8" r="5.0" fill="url(#gH)"/><circle cx="315.7" cy="721.9" r="5.0" fill="url(#gH)"/><circle cx="227.2" cy="750.3" r="5.0" fill="url(#gH)"/><circle cx="221.4" cy="782.5" r="5.0" fill="url(#gH)"/><circle cx="328.1" cy="128.9" r="6.0" fill="url(#gO)"/><circle cx="313.1" cy="147.2" r="6.4" fill="url(#gC)"/><circle cx="291.2" cy="146" r="6.0" fill="url(#gO)"/><circle cx="326.9" cy="170.5" r="6.4" fill="url(#gC)"/><circle cx="340" cy="169.3" r="6.4" fill="url(#gC)"/><circle cx="351.4" cy="169.5" r="6.4" fill="url(#gC)"/><circle cx="364.5" cy="168.3" r="6.4" fill="url(#gC)"/><circle cx="377.7" cy="167.4" r="5.6" fill="url(#gN)"/><circle cx="312.5" cy="192.3" r="5.6" fill="url(#gN)"/><circle cx="321.5" cy="215.4" r="6.4" fill="url(#gC)"/><circle cx="342.7" cy="219.4" r="6.0" fill="url(#gO)"/><circle cx="304.5" cy="235.9" r="6.4" fill="url(#gC)"/><circle cx="282" cy="233.9" r="6.4" fill="url(#gC)"/><circle cx="315.1" cy="259.8" r="5.6" fill="url(#gN)"/><circle cx="302.5" cy="280.2" r="6.4" fill="url(#gC)"/><circle cx="280" cy="280.2" r="6.0" fill="url(#gO)"/><circle cx="316.1" cy="304.7" r="6.4" fill="url(#gC)"/><circle cx="338.5" cy="304" r="6.4" fill="url(#gC)"/><circle cx="301" cy="326.3" r="5.6" fill="url(#gN)"/><circle cx="309.9" cy="349.3" r="6.4" fill="url(#gC)"/><circle cx="331.1" cy="353.4" r="6.0" fill="url(#gO)"/><circle cx="293.4" cy="369.1" r="6.4" fill="url(#gC)"/><circle cx="270.2" cy="367.5" r="6.4" fill="url(#gC)"/><circle cx="304.1" cy="394" r="5.6" fill="url(#gN)"/><circle cx="290.9" cy="414.6" r="6.4" fill="url(#gC)"/><circle cx="268.6" cy="414.6" r="6.0" fill="url(#gO)"/><circle cx="305" cy="438.6" r="6.4" fill="url(#gC)"/><circle cx="326.5" cy="437.8" r="6.4" fill="url(#gC)"/><circle cx="289.2" cy="459.3" r="5.6" fill="url(#gN)"/><circle cx="299.2" cy="483" r="6.4" fill="url(#gC)"/><circle cx="319.8" cy="486.7" r="6.0" fill="url(#gO)"/><circle cx="281" cy="503.3" r="6.4" fill="url(#gC)"/><circle cx="258.6" cy="501.7" r="6.4" fill="url(#gC)"/><circle cx="247.1" cy="475.8" r="6.4" fill="url(#gC)"/><circle cx="224.7" cy="474.1" r="6.4" fill="url(#gC)"/><circle cx="213.1" cy="448.5" r="6.4" fill="url(#gC)"/><circle cx="190.8" cy="446.9" r="5.6" fill="url(#gN)"/><circle cx="292.6" cy="527.3" r="5.6" fill="url(#gN)"/><circle cx="278.5" cy="548.8" r="6.4" fill="url(#gC)"/><circle cx="257" cy="548" r="6.0" fill="url(#gO)"/><circle cx="293.4" cy="572" r="6.4" fill="url(#gC)"/><circle cx="315.7" cy="572" r="6.4" fill="url(#gC)"/><circle cx="278" cy="593.5" r="5.6" fill="url(#gN)"/><circle cx="287.6" cy="616.3" r="6.4" fill="url(#gC)"/><circle cx="308.5" cy="620.1" r="6.0" fill="url(#gO)"/><circle cx="269.4" cy="635.9" r="6.4" fill="url(#gC)"/><circle cx="247.9" cy="634.3" r="6.4" fill="url(#gC)"/><circle cx="281" cy="660.7" r="5.6" fill="url(#gN)"/><circle cx="267.7" cy="681.4" r="6.4" fill="url(#gC)"/><circle cx="245.4" cy="681.4" r="6.0" fill="url(#gO)"/><circle cx="282.6" cy="705.4" r="6.4" fill="url(#gC)"/><circle cx="304.1" cy="704.6" r="6.4" fill="url(#gC)"/><circle cx="266.1" cy="726.9" r="5.6" fill="url(#gN)"/><circle cx="276" cy="751" r="6.4" fill="url(#gC)"/><circle cx="297.3" cy="754.3" r="6.0" fill="url(#gO)"/><circle cx="257.8" cy="770" r="6.4" fill="url(#gC)"/><circle cx="235.5" cy="768.5" r="6.4" fill="url(#gC)"/><circle cx="269.4" cy="794.9" r="5.6" fill="url(#gN)"/><circle cx="256.2" cy="815.6" r="6.4" fill="url(#gC)"/><circle cx="233" cy="815.6" r="6.0" fill="url(#gO)"/><circle cx="270.2" cy="839.6" r="6.4" fill="url(#gC)"/><circle cx="292.2" cy="839.6" r="5.6" fill="url(#gN)"/><circle cx="253.7" cy="861.9" r="6.4" fill="url(#gC)"/><circle cx="272.8" cy="888.3" r="8.0" fill="url(#gS)"/><circle cx="334.7" cy="170.7" r="4.8" fill="url(#gH)"/><circle cx="288.8" cy="235.9" r="4.8" fill="url(#gH)"/><circle cx="322.9" cy="304.7" r="4.8" fill="url(#gH)"/><circle cx="278.5" cy="369.1" r="4.8" fill="url(#gH)"/><circle cx="311.6" cy="438.6" r="4.8" fill="url(#gH)"/><circle cx="265.3" cy="504.2" r="4.8" fill="url(#gH)"/><circle cx="231.3" cy="476.6" r="4.8" fill="url(#gH)"/><circle cx="205.7" cy="443.6" r="4.8" fill="url(#gH)"/><circle cx="300.8" cy="572.8" r="4.8" fill="url(#gH)"/><circle cx="253.7" cy="636.7" r="4.8" fill="url(#gH)"/><circle cx="289.2" cy="706.2" r="4.8" fill="url(#gH)"/><circle cx="241.3" cy="770.9" r="4.8" fill="url(#gH)"/><circle cx="277.7" cy="839.6" r="4.8" fill="url(#gH)"/><circle cx="238" cy="861.9" r="4.8" fill="url(#gH)"/><clipPath id="slabclip"><rect x="110" y="0" width="286.5" height="140"/></clipPath><g clip-path="url(#slabclip)"><polygon points="124,34 392,34 392,96 126,90" fill="#28282b"/><polygon points="127,92 392,98 392,124 131,116" fill="#6c7179"/><circle cx="130.2" cy="31.7" r="11.6" fill="url(#gEb)"/><circle cx="153" cy="31.95" r="11.75" fill="url(#gEb)"/><circle cx="175.7" cy="32.2" r="11.9" fill="url(#gEb)"/><circle cx="199.1" cy="32.45" r="12.05" fill="url(#gEb)"/><circle cx="222.5" cy="32.7" r="12.2" fill="url(#gEb)"/><circle cx="246.5" cy="32.95" r="12.35" fill="url(#gEb)"/><circle cx="272" cy="33.2" r="12.5" fill="url(#gEb)"/><circle cx="297.3" cy="33.45" r="12.65" fill="url(#gEb)"/><circle cx="322.6" cy="33.7" r="12.8" fill="url(#gEb)"/><circle cx="349.2" cy="33.95" r="12.95" fill="url(#gEb)"/><circle cx="376.4" cy="34.2" r="13.1" fill="url(#gEb)"/><circle cx="388.4" cy="34.2" r="13.1" fill="url(#gEb)"/><circle cx="383.9" cy="38.2" r="13.1" fill="url(#gEb)"/><circle cx="388.4" cy="60.8" r="13.1" fill="url(#gEb)"/><circle cx="383.9" cy="64.8" r="13.1" fill="url(#gEb)"/><circle cx="388.4" cy="86.7" r="13.1" fill="url(#gGb)"/><circle cx="383.9" cy="90.7" r="13.1" fill="url(#gGb)"/><circle cx="388.4" cy="112" r="13.1" fill="url(#gGb)"/><circle cx="383.9" cy="116" r="13.1" fill="url(#gGb)"/><circle cx="132.7" cy="39.7" r="11.6" fill="url(#gE)"/><circle cx="155.5" cy="39.95" r="11.75" fill="url(#gE)"/><circle cx="178.2" cy="40.2" r="11.9" fill="url(#gE)"/><circle cx="201.6" cy="40.45" r="12.05" fill="url(#gE)"/><circle cx="225" cy="40.7" r="12.2" fill="url(#gE)"/><circle cx="249" cy="40.95" r="12.35" fill="url(#gE)"/><circle cx="274.5" cy="41.2" r="12.5" fill="url(#gE)"/><circle cx="299.8" cy="41.45" r="12.65" fill="url(#gE)"/><circle cx="325.1" cy="41.7" r="12.8" fill="url(#gE)"/><circle cx="351.7" cy="41.95" r="12.95" fill="url(#gE)"/><circle cx="378.9" cy="42.2" r="13.1" fill="url(#gE)"/><circle cx="135.2" cy="63.1" r="11.6" fill="url(#gE)"/><circle cx="158" cy="63.67" r="11.75" fill="url(#gE)"/><circle cx="180.1" cy="64.24" r="11.9" fill="url(#gE)"/><circle cx="203.5" cy="64.81" r="12.05" fill="url(#gE)"/><circle cx="226.9" cy="65.38" r="12.2" fill="url(#gE)"/><circle cx="251" cy="65.95" r="12.35" fill="url(#gE)"/><circle cx="274.5" cy="66.52" r="12.5" fill="url(#gE)"/><circle cx="299.8" cy="67.09" r="12.65" fill="url(#gE)"/><circle cx="325.8" cy="67.66" r="12.8" fill="url(#gE)"/><circle cx="352.3" cy="68.23" r="12.95" fill="url(#gE)"/><circle cx="378.9" cy="68.8" r="13.1" fill="url(#gE)"/><circle cx="137.1" cy="86.5" r="11.6" fill="url(#gG)"/><circle cx="159.3" cy="87.32" r="11.75" fill="url(#gG)"/><circle cx="181.4" cy="88.14" r="11.9" fill="url(#gG)"/><circle cx="204.8" cy="88.96" r="12.05" fill="url(#gG)"/><circle cx="228.2" cy="89.78" r="12.2" fill="url(#gG)"/><circle cx="251.6" cy="90.6" r="12.35" fill="url(#gG)"/><circle cx="276.4" cy="91.42" r="12.5" fill="url(#gG)"/><circle cx="301.1" cy="92.24" r="12.65" fill="url(#gG)"/><circle cx="326.4" cy="93.06" r="12.8" fill="url(#gG)"/><circle cx="352.3" cy="93.88" r="12.95" fill="url(#gG)"/><circle cx="378.9" cy="94.7" r="13.1" fill="url(#gG)"/><circle cx="139" cy="109.9" r="11.6" fill="url(#gG)"/><circle cx="161.2" cy="110.91" r="11.75" fill="url(#gG)"/><circle cx="183.3" cy="111.92" r="11.9" fill="url(#gG)"/><circle cx="206.1" cy="112.93" r="12.05" fill="url(#gG)"/><circle cx="229.5" cy="113.94" r="12.2" fill="url(#gG)"/><circle cx="252.9" cy="114.95" r="12.35" fill="url(#gG)"/><circle cx="277.1" cy="115.96" r="12.5" fill="url(#gG)"/><circle cx="302.4" cy="116.97" r="12.65" fill="url(#gG)"/><circle cx="327.7" cy="117.98" r="12.8" fill="url(#gG)"/><circle cx="353" cy="118.99" r="12.95" fill="url(#gG)"/><circle cx="378.9" cy="120" r="13.1" fill="url(#gG)"/></g><text x="217.1" y="61.8" style="font-family:'Liberation Sans',sans-serif;font-size:23.7px;font-weight:bold;fill:#fff">EGaIn</text><text x="211.6" y="106.4" style="font-family:'Liberation Sans',sans-serif;font-size:23.8px;font-weight:bold;fill:#fff">GaO<tspan style="font-size:16.5px">x</tspan></text><polygon points="97.2,867.9 377.3,879.3 312.4,933.1 33.5,921.2" fill="#8d8d8d"/><polygon points="33.5,921.2 312.4,933.1 310.9,971.1 31.4,960" fill="url(#gFront)"/><polygon points="312.4,933.1 377.3,879.3 376.1,918.2 310.9,971.1" fill="url(#gSide)"/><text transform="translate(130.6,950.9) rotate(2.45)" style="font-family:'Liberation Sans',sans-serif;font-size:24px;font-weight:bold">Ag/AgO<tspan style="font-size:16.5px">x</tspan></text><line x1="136.8" y1="883" x2="123.8" y2="895" stroke="#b0b0b0" stroke-width="1.4" opacity="0.8"/><line x1="125.34" y1="867.16" x2="136.8" y2="883" stroke="#c4c4c4" stroke-width="2.6"/><circle cx="136.8" cy="883" r="8" fill="url(#gS)"/><line x1="272.8" y1="888.3" x2="259.8" y2="900.3" stroke="#b0b0b0" stroke-width="1.4" opacity="0.8"/><line x1="261.34" y1="872.46" x2="272.8" y2="888.3" stroke="#c4c4c4" stroke-width="2.6"/><circle cx="272.8" cy="888.3" r="8" fill="url(#gS)"/><polyline points="131,77.05 16.9,77.05 16.9,381.7" stroke="#000" stroke-width="2.1" fill="none"/><polyline points="16.9,390 16.9,972.8" stroke="#000" stroke-width="2.1" fill="none"/><line x1="16.9" y1="937.5" x2="33" y2="937.5" stroke="#000" stroke-width="2.1"/><line x1="0" y1="381.7" x2="33.4" y2="381.7" stroke="#000" stroke-width="2.9" stroke-linecap="round"/><line x1="9.6" y1="390" x2="24" y2="390" stroke="#000" stroke-width="2.9" stroke-linecap="round"/><line x1="6.3" y1="972.8" x2="27.2" y2="972.8" stroke="#000" stroke-width="2.4" stroke-linecap="round"/><line x1="9.2" y1="980.1" x2="24.4" y2="980.1" stroke="#000" stroke-width="2.4" stroke-linecap="round"/><line x1="13" y1="987" x2="20.5" y2="987" stroke="#000" stroke-width="2.1" stroke-linecap="round"/><line x1="313" y1="529.2" x2="336" y2="529.2" stroke="#000" stroke-width="1.3" fill="none"/><polygon points="340.5,529.2 330,525.6 333.2,529.2 330,532.8" fill="#000"/><line x1="328.8" y1="551.5" x2="337.58" y2="538.33" stroke="#000" stroke-width="1.3" fill="none"/><polygon points="340.2,534.6 331.38,541.34 336.15,540.67 337.37,545.33" fill="#000"/><path d="M284,665.3 Q287,672.1 293,672.1 L336,672.1" stroke="#000" stroke-width="1.3" fill="none"/><polygon points="340.5,672.1 330,668.5 333.2,672.1 330,675.7" fill="#000"/><line x1="302.7" y1="754.5" x2="336" y2="754.5" stroke="#000" stroke-width="1.3" fill="none"/><polygon points="340.5,754.5 330,750.9 333.2,754.5 330,758.1" fill="#000"/><line x1="261.3" y1="814.7" x2="336" y2="814.7" stroke="#000" stroke-width="1.3" fill="none"/><polygon points="340.5,814.7 330,811.1 333.2,814.7 330,818.3" fill="#000"/><line x1="280.4" y1="888.4" x2="336" y2="888.4" stroke="#000" stroke-width="1.3" fill="none"/><polygon points="340.5,888.4 330,884.8 333.2,888.4 330,892" fill="#000"/><text x="341.6" y="535.0" style="font-family:'Liberation Sans',sans-serif;font-size:20.8px;font-weight:bold">H</text><text x="341.6" y="678.5" style="font-family:'Liberation Sans',sans-serif;font-size:20.8px;font-weight:bold">N</text><text x="341.5" y="760.4" style="font-family:'Liberation Sans',sans-serif;font-size:20.8px;font-weight:bold">O</text><text x="341.8" y="820.8" style="font-family:'Liberation Sans',sans-serif;font-size:20.8px;font-weight:bold">C</text><text x="342.6" y="895.1" style="font-family:'Liberation Sans',sans-serif;font-size:20.8px;font-weight:bold">S</text><text x="4.2" y="28.9" style="font-family:'Liberation Sans',sans-serif;font-size:23.5px;font-weight:bold">a</text><path d="M550.95,225.7 L555.5,33.4 L560.05,225.7 L564.59,33.4 L569.14,225.7 L573.68,33.4 L578.23,225.7 L582.77,33.4 L587.32,225.7 L591.87,33.4 L596.41,225.7 L600.96,33.4 L605.5,225.7 L610.05,33.4 L614.59,225.7 L619.14,33.4 L623.68,225.7 L628.23,33.4 L632.78,225.7 L637.32,33.4 L641.87,225.7 L646.41,33.4 L650.96,225.7 L655.5,33.4 L660.05,225.7 L664.6,33.4 L669.14,225.7 L673.69,33.4 L678.23,225.7 L682.78,33.4 L687.32,225.7 L691.87,33.4 L696.42,225.7 L700.96,33.4 L705.51,225.7 L710.05,33.4 L714.6,225.7 L719.14,33.4 L723.69,225.7 L728.23,33.4 L732.78,225.7 L737.33,33.4 L741.87,225.7 L746.42,33.4 L750.96,225.7 L755.51,33.4 L760.05,225.7 L764.6,33.4 L769.15,225.7 L773.69,33.4 L778.24,225.7 L782.78,33.4 L787.33,225.7 L791.87,33.4 L796.42,225.7 L800.97,33.4 L805.51,225.7 L810.06,33.4 L814.6,225.7 L819.15,33.4 L823.69,225.7 L828.24,33.4 L832.78,225.7 L837.33,33.4 L841.88,225.7 L846.42,33.4 L850.97,225.7 L855.51,33.4 L860.06,225.7 L864.6,33.4 L869.15,225.7 L873.7,33.4 L878.24,225.7 L882.79,33.4 L887.33,225.7 L891.88,33.4 L896.42,225.7 L900.97,33.4 L905.52,225.7 L910.06,33.4 L914.61,225.7 L919.15,33.4 L923.7,225.7 L928.24,33.4 L932.79,225.7 L937.33,33.4 L941.88,225.7 L946.43,33.4 L950.97,225.7 L955.52,33.4 L960.06,225.7 L964.61,33.4 L969.15,225.7 L973.7,33.4 L978.25,225.7 L982.79,33.4 L987.34,225.7 L991.88,33.4 L996.43,225.7 L1000.97,33.4 L1005.52,225.7 L1010.07,33.4 L1014.61,225.7 L1019.16,33.4 L1023.7,225.7 L1028.25,33.4 L1032.79,225.7 L1037.34,33.4 L1041.88,225.7 L1046.43,33.4 L1050.98,225.7 L1055.52,33.4 L1060.07,225.7 L1064.61,33.4 L1069.16,225.7 L1073.7,33.4 L1078.25,225.7 L1082.8,33.4 L1087.34,225.7 L1091.89,33.4 L1096.43,225.7 L1100.98,33.4 L1105.52,225.7 L1110.07,33.4 L1114.61,225.7 L1119.16,33.4 L1123.71,225.7 L1128.25,33.4 L1132.8,225.7 L1137.34,33.4 L1141.89,225.7 L1146.43,33.4 L1150.98,225.7 L1155.53,33.4 L1160.07,225.7 L1164.62,33.4 L1169.16,225.7 L1173.71,33.4 L1178.25,225.7 L1182.8,33.4 L1187.35,225.7 L1191.89,33.4 L1196.44,225.7 L1200.98,33.4 L1205.53,225.7 L1210.07,33.4 L1214.62,225.7 L1219.16,33.4 L1223.71,225.7 L1228.26,33.4 L1232.8,225.7 L1237.35,33.4 L1241.89,225.7" fill="none" stroke="#a0badd" stroke-width="1.0" stroke-linejoin="miter" stroke-miterlimit="30"/><path d="M550.95,225.9 L555.5,206.7 L560.05,225.9 L564.59,207.08 L569.14,225.9 L573.68,207.46 L578.23,225.9 L582.77,207.81 L587.32,225.9 L591.87,208.16 L596.41,225.9 L600.96,208.5 L605.5,225.9 L610.05,208.82 L614.59,225.9 L619.14,209.13 L623.68,225.9 L628.23,209.44 L632.78,225.9 L637.32,209.73 L641.87,225.9 L646.41,210.01 L650.96,225.9 L655.5,210.29 L660.05,225.9 L664.6,210.55 L669.14,225.9 L673.69,210.81 L678.23,225.9 L682.78,211.06 L687.32,225.9 L691.87,211.29 L696.42,225.9 L700.96,211.53 L705.51,225.9 L710.05,211.75 L714.6,225.9 L719.14,211.97 L723.69,225.9 L728.23,212.18 L732.78,225.9 L737.33,212.38 L741.87,225.9 L746.42,212.58 L750.96,225.9 L755.51,212.77 L760.05,225.9 L764.6,212.95 L769.15,225.9 L773.69,213.13 L778.24,225.9 L782.78,213.3 L787.33,225.9 L791.87,213.47 L796.42,225.9 L800.97,213.63 L805.51,225.9 L810.06,213.79 L814.6,225.9 L819.15,213.94 L823.69,225.9 L828.24,214.08 L832.78,225.9 L837.33,214.23 L841.88,225.9 L846.42,214.36 L850.97,225.9 L855.51,214.5 L860.06,225.9 L864.6,214.63 L869.15,225.9 L873.7,214.75 L878.24,225.9 L882.79,214.87 L887.33,225.9 L891.88,214.99 L896.42,225.9 L900.97,215.11 L905.52,225.9 L910.06,215.22 L914.61,225.9 L919.15,215.32 L923.7,225.9 L928.24,215.43 L932.79,225.9 L937.33,215.53 L941.88,225.9 L946.43,215.63 L950.97,225.9 L955.52,215.72 L960.06,225.9 L964.61,215.82 L969.15,225.9 L973.7,215.91 L978.25,225.9 L982.79,215.99 L987.34,225.9 L991.88,216.08 L996.43,225.9 L1000.97,216.16 L1005.52,225.9 L1010.07,216.24 L1014.61,225.9 L1019.16,216.32 L1023.7,225.9 L1028.25,216.39 L1032.79,225.9 L1037.34,216.47 L1041.88,225.9 L1046.43,216.54 L1050.98,225.9 L1055.52,216.61 L1060.07,225.9 L1064.61,216.67 L1069.16,225.9 L1073.7,216.74 L1078.25,225.9 L1082.8,216.8 L1087.34,225.9 L1091.89,216.87 L1096.43,225.9 L1100.98,216.93 L1105.52,225.9 L1110.07,216.99 L1114.61,225.9 L1119.16,217.05 L1123.71,225.9 L1128.25,217.1 L1132.8,225.9 L1137.34,217.16 L1141.89,225.9 L1146.43,217.21 L1150.98,225.9 L1155.53,217.26 L1160.07,225.9 L1164.62,217.31 L1169.16,225.9 L1173.71,217.36 L1178.25,225.9 L1182.8,217.41 L1187.35,225.9 L1191.89,217.46 L1196.44,225.9 L1200.98,217.5 L1205.53,225.9 L1210.07,217.55 L1214.62,225.9 L1219.16,217.59 L1223.71,225.9 L1228.26,217.64 L1232.8,225.9 L1237.35,217.68 L1241.89,225.9" fill="none" stroke="#000" stroke-width="3.1" stroke-linejoin="round"/><rect x="551.5" y="11.8" width="701" height="214.5" fill="none" stroke="#000" stroke-width="1.8"/><line x1="544.3" y1="226.3" x2="551.5" y2="226.3" stroke="#000" stroke-width="1.6"/><text transform="translate(537.4,232.4) scale(1,1.1)" text-anchor="end" style="font-family:'Liberation Sans',sans-serif;font-size:20.8px;fill:#000;stroke:#000;stroke-width:0.3px">0.0</text><line x1="544.3" y1="140.5" x2="551.5" y2="140.5" stroke="#000" stroke-width="1.6"/><text transform="translate(537.4,146.6) scale(1,1.1)" text-anchor="end" style="font-family:'Liberation Sans',sans-serif;font-size:20.8px;fill:#000;stroke:#000;stroke-width:0.3px">0.2</text><line x1="544.3" y1="54.7" x2="551.5" y2="54.7" stroke="#000" stroke-width="1.6"/><text transform="translate(537.4,60.8) scale(1,1.1)" text-anchor="end" style="font-family:'Liberation Sans',sans-serif;font-size:20.8px;fill:#000;stroke:#000;stroke-width:0.3px">0.4</text><line x1="547.7" y1="183.4" x2="551.5" y2="183.4" stroke="#000" stroke-width="1.6"/><line x1="547.7" y1="97.6" x2="551.5" y2="97.6" stroke="#000" stroke-width="1.6"/><line x1="1252.5" y1="226.3" x2="1245" y2="226.3" stroke="#000" stroke-width="1.6"/><text transform="translate(1258.8,232.4) scale(1,1.1)" style="font-family:'Liberation Sans',sans-serif;font-size:20.8px;fill:#000;stroke:#000;stroke-width:0.3px">0</text><line x1="1252.5" y1="146.9" x2="1245" y2="146.9" stroke="#000" stroke-width="1.6"/><text transform="translate(1258.8,153) scale(1,1.1)" style="font-family:'Liberation Sans',sans-serif;font-size:20.8px;fill:#000;stroke:#000;stroke-width:0.3px">1000</text><line x1="1252.5" y1="67.5" x2="1245" y2="67.5" stroke="#000" stroke-width="1.6"/><text transform="translate(1258.8,73.6) scale(1,1.1)" style="font-family:'Liberation Sans',sans-serif;font-size:20.8px;fill:#000;stroke:#000;stroke-width:0.3px">2000</text><line x1="1252.5" y1="186.6" x2="1248.7" y2="186.6" stroke="#000" stroke-width="1.6"/><line x1="1252.5" y1="107.2" x2="1248.7" y2="107.2" stroke="#000" stroke-width="1.6"/><line x1="1252.5" y1="27.8" x2="1248.7" y2="27.8" stroke="#000" stroke-width="1.6"/><text transform="translate(493.2,114.6) rotate(-90)" text-anchor="middle" style="font-family:'Liberation Sans',sans-serif;font-size:24.2px;fill:#000;stroke:#000;stroke-width:0.3px">Voltage (V)</text><text transform="translate(1333.1,119.5) rotate(-90)" text-anchor="middle" style="font-family:'Liberation Sans',sans-serif;font-size:24.2px;fill:#000;stroke:#000;stroke-width:0.3px">Current (nA)</text><text x="475.8" y="16.8" style="font-family:'Liberation Sans',sans-serif;font-size:23.5px;font-weight:bold">b</text><line x1="710.5" y1="25.8" x2="780" y2="25.8" stroke="#a0badd" stroke-width="2.7"/><text transform="translate(786.8,31) scale(1,1.07)" style="font-family:'Liberation Sans',sans-serif;font-size:20.8px;fill:#000;stroke:#000;stroke-width:0.3px">Voltage</text><line x1="908.4" y1="25.6" x2="943.6" y2="25.6" stroke="#000" stroke-width="3"/><line x1="943.6" y1="25.6" x2="981" y2="25.6" stroke="#e0301c" stroke-width="3"/><line x1="981" y1="25.6" x2="1017" y2="25.6" stroke="#3b2b9b" stroke-width="3"/><text transform="translate(1021.9,31) scale(1,1.07)" style="font-family:'Liberation Sans',sans-serif;font-size:20.8px;fill:#000;stroke:#000;stroke-width:0.3px">Current</text><path d="M550.95,453.1 L555.5,261.1 L560.05,453.1 L564.59,261.1 L569.14,453.1 L573.68,261.1 L578.23,453.1 L582.77,261.1 L587.32,453.1 L591.87,261.1 L596.41,453.1 L600.96,261.1 L605.5,453.1 L610.05,261.1 L614.59,453.1 L619.14,261.1 L623.68,453.1 L628.23,261.1 L632.78,453.1 L637.32,261.1 L641.87,453.1 L646.41,261.1 L650.96,453.1 L655.5,261.1 L660.05,453.1 L664.6,261.1 L669.14,453.1 L673.69,261.1 L678.23,453.1 L682.78,261.1 L687.32,453.1 L691.87,261.1 L696.42,453.1 L700.96,261.1 L705.51,453.1 L710.05,261.1 L714.6,453.1 L719.14,261.1 L723.69,453.1 L728.23,261.1 L732.78,453.1 L737.33,261.1 L741.87,453.1 L746.42,261.1 L750.96,453.1 L755.51,261.1 L760.05,453.1 L764.6,261.1 L769.15,453.1 L773.69,261.1 L778.24,453.1 L782.78,261.1 L787.33,453.1 L791.87,261.1 L796.42,453.1 L800.97,261.1 L805.51,453.1 L810.06,261.1 L814.6,453.1 L819.15,261.1 L823.69,453.1 L828.24,261.1 L832.78,453.1 L837.33,261.1 L841.88,453.1 L846.42,261.1 L850.97,453.1 L855.51,261.1 L860.06,453.1 L864.6,261.1 L869.15,453.1 L873.7,261.1 L878.24,453.1 L882.79,261.1 L887.33,453.1 L891.88,261.1 L896.42,453.1 L900.97,261.1 L905.52,453.1 L910.06,261.1 L914.61,453.1 L919.15,261.1 L923.7,453.1 L928.24,261.1 L932.79,453.1 L937.33,261.1 L941.88,453.1 L946.43,261.1 L950.97,453.1 L955.52,261.1 L960.06,453.1 L964.61,261.1 L969.15,453.1 L973.7,261.1 L978.25,453.1 L982.79,261.1 L987.34,453.1 L991.88,261.1 L996.43,453.1 L1000.97,261.1 L1005.52,453.1 L1010.07,261.1 L1014.61,453.1 L1019.16,261.1 L1023.7,453.1 L1028.25,261.1 L1032.79,453.1 L1037.34,261.1 L1041.88,453.1 L1046.43,261.1 L1050.98,453.1 L1055.52,261.1 L1060.07,453.1 L1064.61,261.1 L1069.16,453.1 L1073.7,261.1 L1078.25,453.1 L1082.8,261.1 L1087.34,453.1 L1091.89,261.1 L1096.43,453.1 L1100.98,261.1 L1105.52,453.1 L1110.07,261.1 L1114.61,453.1 L1119.16,261.1 L1123.71,453.1 L1128.25,261.1 L1132.8,453.1 L1137.34,261.1 L1141.89,453.1 L1146.43,261.1 L1150.98,453.1 L1155.53,261.1 L1160.07,453.1 L1164.62,261.1 L1169.16,453.1 L1173.71,261.1 L1178.25,453.1 L1182.8,261.1 L1187.35,453.1 L1191.89,261.1 L1196.44,453.1 L1200.98,261.1 L1205.53,453.1 L1210.07,261.1 L1214.62,453.1 L1219.16,261.1 L1223.71,453.1 L1228.26,261.1 L1232.8,453.1 L1237.35,261.1 L1241.89,453.1" fill="none" stroke="#a0badd" stroke-width="1.0" stroke-linejoin="miter" stroke-miterlimit="30"/><path d="M550.95,453.3 L555.5,443.9 L560.05,453.3 L564.59,443.2 L569.14,453.3 L573.68,442.6 L578.23,453.3 L582.77,441.8 L587.32,453.3 L591.87,441.1 L596.41,453.3 L600.96,440.5 L605.5,453.3 L610.05,440 L614.59,453.3 L619.14,439.1 L623.68,453.3 L628.23,438.4 L632.78,453.3 L637.32,437.6 L641.87,453.3 L646.41,436.3 L650.96,453.3 L655.5,436 L660.05,453.3 L664.6,434.8 L669.14,453.3 L673.69,434 L678.23,453.3 L682.78,432.8 L687.32,453.3 L691.87,431.8 L696.42,453.3 L700.96,431 L705.51,453.3 L710.05,429.7 L714.6,453.3 L719.14,429.7 L723.69,453.3 L728.23,427.9 L732.78,453.3 L737.33,426.6 L741.87,453.3 L746.42,424.9 L750.96,453.3 L755.51,421.5 L760.05,453.3 L764.6,421 L769.15,453.3 L773.69,420 L778.24,453.3 L782.78,419 L787.33,453.3 L791.87,417 L796.42,453.3 L800.97,415 L805.51,453.3 L810.06,413 L814.6,453.3 L819.15,407.4 L823.69,453.3 L828.24,402.4 L832.78,453.3 L837.33,402.7 L841.88,453.3 L846.42,396.6 L850.97,453.3 L855.51,398 L860.06,453.3 L864.6,395.3 L869.15,453.3 L873.7,388.8 L878.24,453.3 L882.79,388 L887.33,453.3 L891.88,382.8 L896.42,453.3 L900.97,380.1 L905.52,453.3 L910.06,376.1 L914.61,453.3 L919.15,374.7 L923.7,453.3 L928.24,369.3 L932.79,453.3 L937.33,365 L941.88,453.3 L946.43,364.5 L950.97,453.3 L955.52,361.8 L960.06,453.3 L964.61,356.2 L969.15,453.3 L973.7,357.2 L978.25,453.3 L982.79,354 L987.34,453.3 L991.88,354 L996.43,453.3 L1000.97,348.6 L1005.52,453.3 L1010.07,347.5 L1014.61,453.3 L1019.16,344.6 L1023.7,453.3 L1028.25,341.6 L1032.79,453.3 L1037.34,338.9 L1041.88,453.3 L1046.43,337.3 L1050.98,453.3 L1055.52,330.9 L1060.07,453.3 L1064.61,326.3 L1069.16,453.3 L1073.7,320.6 L1078.25,453.3 L1082.8,316.3 L1087.34,453.3 L1091.89,314.7 L1096.43,453.3 L1100.98,306.1 L1105.52,453.3 L1110.07,301.3 L1114.61,453.3 L1119.16,304 L1123.71,453.3 L1128.25,299.1 L1132.8,453.3 L1137.34,297.8 L1141.89,453.3 L1146.43,294.3 L1150.98,453.3 L1155.53,286.7 L1160.07,453.3 L1164.62,280.6 L1169.16,453.3 L1173.71,278.7 L1178.25,453.3 L1182.8,277.3 L1187.35,453.3 L1191.89,274.6 L1196.44,453.3 L1200.98,269.3 L1205.53,453.3 L1210.07,267.9 L1214.62,453.3 L1219.16,262.5 L1223.71,453.3 L1228.26,261.2 L1232.8,453.3 L1237.35,256.3 L1241.89,453.3" fill="none" stroke="#e0301c" stroke-width="3.1" stroke-linejoin="round"/><rect x="551.5" y="239.3" width="701" height="214.4" fill="none" stroke="#000" stroke-width="1.8"/><line x1="544.3" y1="453.7" x2="551.5" y2="453.7" stroke="#000" stroke-width="1.6"/><text transform="translate(537.4,459.8) scale(1,1.1)" text-anchor="end" style="font-family:'Liberation Sans',sans-serif;font-size:20.8px;fill:#000;stroke:#000;stroke-width:0.3px">0.0</text><line x1="544.3" y1="367.7" x2="551.5" y2="367.7" stroke="#000" stroke-width="1.6"/><text transform="translate(537.4,373.8) scale(1,1.1)" text-anchor="end" style="font-family:'Liberation Sans',sans-serif;font-size:20.8px;fill:#000;stroke:#000;stroke-width:0.3px">-0.2</text><line x1="544.3" y1="281.7" x2="551.5" y2="281.7" stroke="#000" stroke-width="1.6"/><text transform="translate(537.4,287.8) scale(1,1.1)" text-anchor="end" style="font-family:'Liberation Sans',sans-serif;font-size:20.8px;fill:#000;stroke:#000;stroke-width:0.3px">-0.4</text><line x1="547.7" y1="410.7" x2="551.5" y2="410.7" stroke="#000" stroke-width="1.6"/><line x1="547.7" y1="324.7" x2="551.5" y2="324.7" stroke="#000" stroke-width="1.6"/><line x1="1252.5" y1="453.7" x2="1245" y2="453.7" stroke="#000" stroke-width="1.6"/><text transform="translate(1258.8,459.8) scale(1,1.1)" style="font-family:'Liberation Sans',sans-serif;font-size:20.8px;fill:#000;stroke:#000;stroke-width:0.3px">0</text><line x1="1252.5" y1="374.3" x2="1245" y2="374.3" stroke="#000" stroke-width="1.6"/><text transform="translate(1258.8,380.4) scale(1,1.1)" style="font-family:'Liberation Sans',sans-serif;font-size:20.8px;fill:#000;stroke:#000;stroke-width:0.3px">-1000</text><line x1="1252.5" y1="294.9" x2="1245" y2="294.9" stroke="#000" stroke-width="1.6"/><text transform="translate(1258.8,301) scale(1,1.1)" style="font-family:'Liberation Sans',sans-serif;font-size:20.8px;fill:#000;stroke:#000;stroke-width:0.3px">-2000</text><line x1="1252.5" y1="414" x2="1248.7" y2="414" stroke="#000" stroke-width="1.6"/><line x1="1252.5" y1="334.6" x2="1248.7" y2="334.6" stroke="#000" stroke-width="1.6"/><line x1="1252.5" y1="255.2" x2="1248.7" y2="255.2" stroke="#000" stroke-width="1.6"/><text transform="translate(493.2,340.9) rotate(-90)" text-anchor="middle" style="font-family:'Liberation Sans',sans-serif;font-size:24.2px;fill:#000;stroke:#000;stroke-width:0.3px">Voltage (V)</text><text transform="translate(1333.1,346.7) rotate(-90)" text-anchor="middle" style="font-family:'Liberation Sans',sans-serif;font-size:24.2px;fill:#000;stroke:#000;stroke-width:0.3px">Current (nA)</text><text x="476.1" y="239.8" style="font-family:'Liberation Sans',sans-serif;font-size:23.5px;font-weight:bold">c</text><path d="M550.95,680.9 L555.5,489 L560.05,680.9 L564.59,489 L569.14,680.9 L573.68,489 L578.23,680.9 L582.77,489 L587.32,680.9 L591.87,489 L596.41,680.9 L600.96,489 L605.5,680.9 L610.05,489 L614.59,680.9 L619.14,489 L623.68,680.9 L628.23,489 L632.78,680.9 L637.32,489 L641.87,680.9 L646.41,489 L650.96,680.9 L655.5,489 L660.05,680.9 L664.6,489 L669.14,680.9 L673.69,489 L678.23,680.9 L682.78,489 L687.32,680.9 L691.87,489 L696.42,680.9 L700.96,489 L705.51,680.9 L710.05,489 L714.6,680.9 L719.14,489 L723.69,680.9 L728.23,489 L732.78,680.9 L737.33,489 L741.87,680.9 L746.42,489 L750.96,680.9 L755.51,489 L760.05,680.9 L764.6,489 L769.15,680.9 L773.69,489 L778.24,680.9 L782.78,489 L787.33,680.9 L791.87,489 L796.42,680.9 L800.97,489 L805.51,680.9 L810.06,489 L814.6,680.9 L819.15,489 L823.69,680.9 L828.24,489 L832.78,680.9 L837.33,489 L841.88,680.9 L846.42,489 L850.97,680.9 L855.51,489 L860.06,680.9 L864.6,489 L869.15,680.9 L873.7,489 L878.24,680.9 L882.79,489 L887.33,680.9 L891.88,489 L896.42,680.9 L900.97,489 L905.52,680.9 L910.06,489 L914.61,680.9 L919.15,489 L923.7,680.9 L928.24,489 L932.79,680.9 L937.33,489 L941.88,680.9 L946.43,489 L950.97,680.9 L955.52,489 L960.06,680.9 L964.61,489 L969.15,680.9 L973.7,489 L978.25,680.9 L982.79,489 L987.34,680.9 L991.88,489 L996.43,680.9 L1000.97,489 L1005.52,680.9 L1010.07,489 L1014.61,680.9 L1019.16,489 L1023.7,680.9 L1028.25,489 L1032.79,680.9 L1037.34,489 L1041.88,680.9 L1046.43,489 L1050.98,680.9 L1055.52,489 L1060.07,680.9 L1064.61,489 L1069.16,680.9 L1073.7,489 L1078.25,680.9 L1082.8,489 L1087.34,680.9 L1091.89,489 L1096.43,680.9 L1100.98,489 L1105.52,680.9 L1110.07,489 L1114.61,680.9 L1119.16,489 L1123.71,680.9 L1128.25,489 L1132.8,680.9 L1137.34,489 L1141.89,680.9 L1146.43,489 L1150.98,680.9 L1155.53,489 L1160.07,680.9 L1164.62,489 L1169.16,680.9 L1173.71,489 L1178.25,680.9 L1182.8,489 L1187.35,680.9 L1191.89,489 L1196.44,680.9 L1200.98,489 L1205.53,680.9 L1210.07,489 L1214.62,680.9 L1219.16,489 L1223.71,680.9 L1228.26,489 L1232.8,680.9 L1237.35,489 L1241.89,680.9" fill="none" stroke="#a0badd" stroke-width="1.0" stroke-linejoin="miter" stroke-miterlimit="30"/><path d="M550.95,681.1 L555.5,532 L560.05,681.1 L564.59,561 L569.14,681.1 L573.68,579.1 L578.23,681.1 L582.77,591.6 L587.32,681.1 L591.87,598.2 L596.41,681.1 L600.96,605.5 L605.5,681.1 L610.05,610.5 L614.59,681.1 L619.14,612.6 L623.68,681.1 L628.23,619.9 L632.78,681.1 L637.32,624.3 L641.87,681.1 L646.41,627.7 L650.96,681.1 L655.5,631.1 L660.05,681.1 L664.6,631.9 L669.14,681.1 L673.69,634 L678.23,681.1 L682.78,636.1 L687.32,681.1 L691.87,637.7 L696.42,681.1 L700.96,639 L705.51,681.1 L710.05,640.8 L714.6,681.1 L719.14,641.8 L723.69,681.1 L728.23,643.7 L732.78,681.1 L737.33,645.5 L741.87,681.1 L746.42,645.8 L750.96,681.1 L755.51,647.9 L760.05,681.1 L764.6,648.9 L769.15,681.1 L773.69,649.7 L778.24,681.1 L782.78,651 L787.33,681.1 L791.87,651.8 L796.42,681.1 L800.97,652.6 L805.51,681.1 L810.06,653.1 L814.6,681.1 L819.15,653.9 L823.69,681.1 L828.24,654.1 L832.78,681.1 L837.33,654.7 L841.88,681.1 L846.42,655.4 L850.97,681.1 L855.51,656 L860.06,681.1 L864.6,656.5 L869.15,681.1 L873.7,657 L878.24,681.1 L882.79,657.5 L887.33,681.1 L891.88,658 L896.42,681.1 L900.97,658.29 L905.52,681.1 L910.06,658.58 L914.61,681.1 L919.15,658.87 L923.7,681.1 L928.24,659.16 L932.79,681.1 L937.33,659.45 L941.88,681.1 L946.43,659.74 L950.97,681.1 L955.52,660.03 L960.06,681.1 L964.61,660.32 L969.15,681.1 L973.7,660.61 L978.25,681.1 L982.79,660.89 L987.34,681.1 L991.88,661.18 L996.43,681.1 L1000.97,661.47 L1005.52,681.1 L1010.07,661.76 L1014.61,681.1 L1019.16,662.05 L1023.7,681.1 L1028.25,662.34 L1032.79,681.1 L1037.34,662.63 L1041.88,681.1 L1046.43,662.92 L1050.98,681.1 L1055.52,663.21 L1060.07,681.1 L1064.61,663.5 L1069.16,681.1 L1073.7,663.79 L1078.25,681.1 L1082.8,664.08 L1087.34,681.1 L1091.89,664.37 L1096.43,681.1 L1100.98,664.66 L1105.52,681.1 L1110.07,664.95 L1114.61,681.1 L1119.16,665.24 L1123.71,681.1 L1128.25,665.53 L1132.8,681.1 L1137.34,665.82 L1141.89,681.1 L1146.43,666.11 L1150.98,681.1 L1155.53,666.39 L1160.07,681.1 L1164.62,666.68 L1169.16,681.1 L1173.71,666.97 L1178.25,681.1 L1182.8,667.26 L1187.35,681.1 L1191.89,667.55 L1196.44,681.1 L1200.98,667.84 L1205.53,681.1 L1210.07,668.13 L1214.62,681.1 L1219.16,668.42 L1223.71,681.1 L1228.26,668.71 L1232.8,681.1 L1237.35,669 L1241.89,681.1" fill="none" stroke="#3b2b9b" stroke-width="3.1" stroke-linejoin="round"/><rect x="551.5" y="467.2" width="701" height="214.3" fill="none" stroke="#000" stroke-width="1.8"/><line x1="544.3" y1="681.5" x2="551.5" y2="681.5" stroke="#000" stroke-width="1.6"/><text transform="translate(537.4,687.6) scale(1,1.1)" text-anchor="end" style="font-family:'Liberation Sans',sans-serif;font-size:20.8px;fill:#000;stroke:#000;stroke-width:0.3px">0.0</text><line x1="544.3" y1="595.65" x2="551.5" y2="595.65" stroke="#000" stroke-width="1.6"/><text transform="translate(537.4,601.75) scale(1,1.1)" text-anchor="end" style="font-family:'Liberation Sans',sans-serif;font-size:20.8px;fill:#000;stroke:#000;stroke-width:0.3px">0.2</text><line x1="544.3" y1="509.8" x2="551.5" y2="509.8" stroke="#000" stroke-width="1.6"/><text transform="translate(537.4,515.9) scale(1,1.1)" text-anchor="end" style="font-family:'Liberation Sans',sans-serif;font-size:20.8px;fill:#000;stroke:#000;stroke-width:0.3px">0.4</text><line x1="547.7" y1="638.58" x2="551.5" y2="638.58" stroke="#000" stroke-width="1.6"/><line x1="547.7" y1="552.73" x2="551.5" y2="552.73" stroke="#000" stroke-width="1.6"/><line x1="1252.5" y1="681.5" x2="1245" y2="681.5" stroke="#000" stroke-width="1.6"/><text transform="translate(1258.8,687.6) scale(1,1.1)" style="font-family:'Liberation Sans',sans-serif;font-size:20.8px;fill:#000;stroke:#000;stroke-width:0.3px">0</text><line x1="1252.5" y1="601.9" x2="1245" y2="601.9" stroke="#000" stroke-width="1.6"/><text transform="translate(1258.8,608) scale(1,1.1)" style="font-family:'Liberation Sans',sans-serif;font-size:20.8px;fill:#000;stroke:#000;stroke-width:0.3px">1000</text><line x1="1252.5" y1="522.3" x2="1245" y2="522.3" stroke="#000" stroke-width="1.6"/><text transform="translate(1258.8,528.4) scale(1,1.1)" style="font-family:'Liberation Sans',sans-serif;font-size:20.8px;fill:#000;stroke:#000;stroke-width:0.3px">2000</text><line x1="1252.5" y1="641.7" x2="1248.7" y2="641.7" stroke="#000" stroke-width="1.6"/><line x1="1252.5" y1="562.1" x2="1248.7" y2="562.1" stroke="#000" stroke-width="1.6"/><line x1="1252.5" y1="482.5" x2="1248.7" y2="482.5" stroke="#000" stroke-width="1.6"/><line x1="551.4" y1="681.5" x2="551.4" y2="689.5" stroke="#000" stroke-width="1.6"/><line x1="600.77" y1="681.5" x2="600.77" y2="685.5" stroke="#000" stroke-width="1.6"/><line x1="650.14" y1="681.5" x2="650.14" y2="689.5" stroke="#000" stroke-width="1.6"/><line x1="699.51" y1="681.5" x2="699.51" y2="685.5" stroke="#000" stroke-width="1.6"/><line x1="748.89" y1="681.5" x2="748.89" y2="689.5" stroke="#000" stroke-width="1.6"/><line x1="798.26" y1="681.5" x2="798.26" y2="685.5" stroke="#000" stroke-width="1.6"/><line x1="847.63" y1="681.5" x2="847.63" y2="689.5" stroke="#000" stroke-width="1.6"/><line x1="897" y1="681.5" x2="897" y2="685.5" stroke="#000" stroke-width="1.6"/><line x1="946.37" y1="681.5" x2="946.37" y2="689.5" stroke="#000" stroke-width="1.6"/><line x1="995.74" y1="681.5" x2="995.74" y2="685.5" stroke="#000" stroke-width="1.6"/><line x1="1045.12" y1="681.5" x2="1045.12" y2="689.5" stroke="#000" stroke-width="1.6"/><line x1="1094.49" y1="681.5" x2="1094.49" y2="685.5" stroke="#000" stroke-width="1.6"/><line x1="1143.86" y1="681.5" x2="1143.86" y2="689.5" stroke="#000" stroke-width="1.6"/><line x1="1193.23" y1="681.5" x2="1193.23" y2="685.5" stroke="#000" stroke-width="1.6"/><line x1="1242.6" y1="681.5" x2="1242.6" y2="689.5" stroke="#000" stroke-width="1.6"/><text transform="translate(551.4,713.6) scale(1,1.1)" text-anchor="middle" style="font-family:'Liberation Sans',sans-serif;font-size:20.8px;fill:#000;stroke:#000;stroke-width:0.3px">0</text><text transform="translate(650.14,713.8) scale(1,1.1)" text-anchor="middle" style="font-family:'Liberation Sans',sans-serif;font-size:20.8px;fill:#000;stroke:#000;stroke-width:0.3px">100</text><text transform="translate(748.89,713.8) scale(1,1.1)" text-anchor="middle" style="font-family:'Liberation Sans',sans-serif;font-size:20.8px;fill:#000;stroke:#000;stroke-width:0.3px">200</text><text transform="translate(847.63,717.8) scale(1,1.1)" text-anchor="middle" style="font-family:'Liberation Sans',sans-serif;font-size:20.8px;fill:#000;stroke:#000;stroke-width:0.3px">300</text><text transform="translate(946.37,714.2) scale(1,1.1)" text-anchor="middle" style="font-family:'Liberation Sans',sans-serif;font-size:20.8px;fill:#000;stroke:#000;stroke-width:0.3px">400</text><text transform="translate(1045.12,716.5) scale(1,1.1)" text-anchor="middle" style="font-family:'Liberation Sans',sans-serif;font-size:20.8px;fill:#000;stroke:#000;stroke-width:0.3px">500</text><text transform="translate(1143.86,716.5) scale(1,1.1)" text-anchor="middle" style="font-family:'Liberation Sans',sans-serif;font-size:20.8px;fill:#000;stroke:#000;stroke-width:0.3px">600</text><text transform="translate(1242.6,715.9) scale(1,1.1)" text-anchor="middle" style="font-family:'Liberation Sans',sans-serif;font-size:20.8px;fill:#000;stroke:#000;stroke-width:0.3px">700</text><text transform="translate(865.2,737.6) scale(1,1.04)" style="font-family:'Liberation Sans',sans-serif;font-size:21px;fill:#000;stroke:#000;stroke-width:0.3px">Time (s)</text><text transform="translate(493.2,569.2) rotate(-90)" text-anchor="middle" style="font-family:'Liberation Sans',sans-serif;font-size:24.2px;fill:#000;stroke:#000;stroke-width:0.3px">Voltage (V)</text><text transform="translate(1333.1,574.4) rotate(-90)" text-anchor="middle" style="font-family:'Liberation Sans',sans-serif;font-size:24.2px;fill:#000;stroke:#000;stroke-width:0.3px">Current (nA)</text><text x="476" y="467.2" style="font-family:'Liberation Sans',sans-serif;font-size:23.5px;font-weight:bold">d</text><g fill="none" stroke="#e0301c" stroke-width="1.6"><rect x="560.26" y="953.76" width="5.8" height="5.8"/><rect x="561.63" y="952.63" width="5.8" height="5.8"/><rect x="562.65" y="949.79" width="5.8" height="5.8"/><rect x="563.38" y="946.05" width="5.8" height="5.8"/><rect x="564.47" y="941.79" width="5.8" height="5.8"/><rect x="565.61" y="936.84" width="5.8" height="5.8"/><rect x="567" y="934.42" width="5.8" height="5.8"/><rect x="567.87" y="928.79" width="5.8" height="5.8"/><rect x="569.38" y="928.06" width="5.8" height="5.8"/><rect x="570.45" y="924.71" width="5.8" height="5.8"/><rect x="571.88" y="921.83" width="5.8" height="5.8"/><rect x="572.9" y="920.07" width="5.8" height="5.8"/><rect x="573.44" y="914.55" width="5.8" height="5.8"/><rect x="574.68" y="911.12" width="5.8" height="5.8"/><rect x="575.69" y="906.69" width="5.8" height="5.8"/><rect x="577.17" y="902.54" width="5.8" height="5.8"/><rect x="578.2" y="894.72" width="5.8" height="5.8"/><rect x="578.92" y="887.65" width="5.8" height="5.8"/><rect x="580.53" y="880.58" width="5.8" height="5.8"/><rect x="581.35" y="874.98" width="5.8" height="5.8"/><rect x="582.57" y="868.95" width="5.8" height="5.8"/><rect x="583.95" y="864.58" width="5.8" height="5.8"/><rect x="584.62" y="856.26" width="5.8" height="5.8"/><rect x="585.96" y="848.74" width="5.8" height="5.8"/><rect x="587.23" y="841.92" width="5.8" height="5.8"/><rect x="588.54" y="836.96" width="5.8" height="5.8"/><rect x="589.2" y="825.42" width="5.8" height="5.8"/><rect x="590.1" y="816.66" width="5.8" height="5.8"/><rect x="591.12" y="809.16" width="5.8" height="5.8"/><rect x="592.81" y="801.08" width="5.8" height="5.8"/><rect x="628.75" y="954.64" width="5.8" height="5.8"/><rect x="629.74" y="954.44" width="5.8" height="5.8"/><rect x="630.33" y="954.4" width="5.8" height="5.8"/><rect x="631.96" y="953.3" width="5.8" height="5.8"/><rect x="633.02" y="950.46" width="5.8" height="5.8"/><rect x="633.74" y="948.08" width="5.8" height="5.8"/><rect x="634.98" y="946.08" width="5.8" height="5.8"/><rect x="635.57" y="944.27" width="5.8" height="5.8"/><rect x="636.69" y="942.43" width="5.8" height="5.8"/><rect x="637.65" y="939.9" width="5.8" height="5.8"/><rect x="638.77" y="938.76" width="5.8" height="5.8"/><rect x="639.98" y="937.2" width="5.8" height="5.8"/><rect x="641.44" y="936.82" width="5.8" height="5.8"/><rect x="641.9" y="933.89" width="5.8" height="5.8"/><rect x="643.11" y="932.11" width="5.8" height="5.8"/><rect x="643.97" y="928.4" width="5.8" height="5.8"/><rect x="645.71" y="921.06" width="5.8" height="5.8"/><rect x="646.35" y="914.52" width="5.8" height="5.8"/><rect x="647.09" y="911.69" width="5.8" height="5.8"/><rect x="648.26" y="908.01" width="5.8" height="5.8"/><rect x="649.23" y="892.04" width="5.8" height="5.8"/><rect x="650.9" y="889.45" width="5.8" height="5.8"/><rect x="651.3" y="886.2" width="5.8" height="5.8"/><rect x="652.25" y="882.98" width="5.8" height="5.8"/><rect x="654.06" y="864.5" width="5.8" height="5.8"/><rect x="654.88" y="855.01" width="5.8" height="5.8"/><rect x="655.66" y="837.11" width="5.8" height="5.8"/><rect x="657.03" y="824.88" width="5.8" height="5.8"/><rect x="658.08" y="804.83" width="5.8" height="5.8"/><rect x="658.68" y="784.35" width="5.8" height="5.8"/><rect x="696.48" y="954.48" width="5.8" height="5.8"/><rect x="697.01" y="953.28" width="5.8" height="5.8"/><rect x="697.86" y="951.07" width="5.8" height="5.8"/><rect x="699.56" y="946.76" width="5.8" height="5.8"/><rect x="700.23" y="941.02" width="5.8" height="5.8"/><rect x="701.18" y="936.72" width="5.8" height="5.8"/><rect x="702.53" y="931.48" width="5.8" height="5.8"/><rect x="703.09" y="929.46" width="5.8" height="5.8"/><rect x="704.11" y="928.16" width="5.8" height="5.8"/><rect x="705.16" y="926.25" width="5.8" height="5.8"/><rect x="706.08" y="926.02" width="5.8" height="5.8"/><rect x="707.29" y="923.53" width="5.8" height="5.8"/><rect x="708.5" y="913.16" width="5.8" height="5.8"/><rect x="709.4" y="900.72" width="5.8" height="5.8"/><rect x="710.49" y="896.7" width="5.8" height="5.8"/><rect x="711.53" y="893.88" width="5.8" height="5.8"/><rect x="712.49" y="890.21" width="5.8" height="5.8"/><rect x="713.17" y="885.37" width="5.8" height="5.8"/><rect x="714.33" y="872.55" width="5.8" height="5.8"/><rect x="715.8" y="870.22" width="5.8" height="5.8"/><rect x="716.51" y="862.87" width="5.8" height="5.8"/><rect x="717.72" y="853.96" width="5.8" height="5.8"/><rect x="718.39" y="848.49" width="5.8" height="5.8"/><rect x="719.53" y="840.56" width="5.8" height="5.8"/><rect x="720.98" y="836.29" width="5.8" height="5.8"/><rect x="721.84" y="834.27" width="5.8" height="5.8"/><rect x="723.15" y="827.63" width="5.8" height="5.8"/><rect x="723.93" y="819.74" width="5.8" height="5.8"/><rect x="724.88" y="813.83" width="5.8" height="5.8"/><rect x="725.86" y="797.98" width="5.8" height="5.8"/><rect x="762.32" y="953.55" width="5.8" height="5.8"/><rect x="762.85" y="947.99" width="5.8" height="5.8"/><rect x="764.53" y="943.01" width="5.8" height="5.8"/><rect x="765.05" y="935.53" width="5.8" height="5.8"/><rect x="766.63" y="930.71" width="5.8" height="5.8"/><rect x="767.5" y="924.16" width="5.8" height="5.8"/><rect x="768.04" y="922.95" width="5.8" height="5.8"/><rect x="769.38" y="918.83" width="5.8" height="5.8"/><rect x="770.84" y="913.41" width="5.8" height="5.8"/><rect x="771.78" y="906.48" width="5.8" height="5.8"/><rect x="772.87" y="903.25" width="5.8" height="5.8"/><rect x="773.92" y="901.01" width="5.8" height="5.8"/><rect x="774.55" y="898.18" width="5.8" height="5.8"/><rect x="776.07" y="894.43" width="5.8" height="5.8"/><rect x="776.48" y="889.86" width="5.8" height="5.8"/><rect x="777.61" y="882.48" width="5.8" height="5.8"/><rect x="778.6" y="876.25" width="5.8" height="5.8"/><rect x="779.68" y="871.59" width="5.8" height="5.8"/><rect x="780.81" y="867.38" width="5.8" height="5.8"/><rect x="781.85" y="853.61" width="5.8" height="5.8"/><rect x="782.81" y="846.34" width="5.8" height="5.8"/><rect x="783.73" y="843.43" width="5.8" height="5.8"/><rect x="784.77" y="839.58" width="5.8" height="5.8"/><rect x="786.25" y="832.34" width="5.8" height="5.8"/><rect x="787.24" y="822.11" width="5.8" height="5.8"/><rect x="787.99" y="809.11" width="5.8" height="5.8"/><rect x="789.3" y="796.87" width="5.8" height="5.8"/><rect x="790.67" y="791.64" width="5.8" height="5.8"/><rect x="791.46" y="788.87" width="5.8" height="5.8"/><rect x="792.89" y="786.02" width="5.8" height="5.8"/><rect x="828.99" y="953.26" width="5.8" height="5.8"/><rect x="829.82" y="945.94" width="5.8" height="5.8"/><rect x="830.32" y="939.38" width="5.8" height="5.8"/><rect x="832.04" y="935.84" width="5.8" height="5.8"/><rect x="832.95" y="933.23" width="5.8" height="5.8"/><rect x="833.52" y="929.44" width="5.8" height="5.8"/><rect x="834.85" y="927.06" width="5.8" height="5.8"/><rect x="836.13" y="923.49" width="5.8" height="5.8"/><rect x="837" y="919.4" width="5.8" height="5.8"/><rect x="838.12" y="914.68" width="5.8" height="5.8"/><rect x="838.8" y="909.04" width="5.8" height="5.8"/><rect x="839.76" y="905.78" width="5.8" height="5.8"/><rect x="840.78" y="902.8" width="5.8" height="5.8"/><rect x="842.18" y="898.09" width="5.8" height="5.8"/><rect x="843.28" y="894.01" width="5.8" height="5.8"/><rect x="844.21" y="888.18" width="5.8" height="5.8"/><rect x="845.5" y="885.76" width="5.8" height="5.8"/><rect x="846.31" y="881.04" width="5.8" height="5.8"/><rect x="847.47" y="875.71" width="5.8" height="5.8"/><rect x="848.58" y="872.07" width="5.8" height="5.8"/><rect x="849.09" y="868.33" width="5.8" height="5.8"/><rect x="850.65" y="863.79" width="5.8" height="5.8"/><rect x="851.7" y="859.46" width="5.8" height="5.8"/><rect x="852.55" y="853.81" width="5.8" height="5.8"/><rect x="853.58" y="851.49" width="5.8" height="5.8"/><rect x="854.85" y="845.85" width="5.8" height="5.8"/><rect x="855.79" y="822.59" width="5.8" height="5.8"/><rect x="856.44" y="812.57" width="5.8" height="5.8"/><rect x="857.95" y="806.77" width="5.8" height="5.8"/><rect x="858.85" y="801.73" width="5.8" height="5.8"/><rect x="906.13" y="952.29" width="5.8" height="5.8"/><rect x="907.31" y="949.42" width="5.8" height="5.8"/><rect x="908.56" y="944.69" width="5.8" height="5.8"/><rect x="909.52" y="942.3" width="5.8" height="5.8"/><rect x="910.31" y="939.7" width="5.8" height="5.8"/><rect x="912.03" y="937.97" width="5.8" height="5.8"/><rect x="913.21" y="935.73" width="5.8" height="5.8"/><rect x="913.76" y="934.2" width="5.8" height="5.8"/><rect x="914.8" y="931.22" width="5.8" height="5.8"/><rect x="916.5" y="928.07" width="5.8" height="5.8"/><rect x="917.48" y="923.07" width="5.8" height="5.8"/><rect x="918.65" y="919.41" width="5.8" height="5.8"/><rect x="919.46" y="914.47" width="5.8" height="5.8"/><rect x="920.15" y="911.3" width="5.8" height="5.8"/><rect x="921.56" y="909.09" width="5.8" height="5.8"/><rect x="922.81" y="902.47" width="5.8" height="5.8"/><rect x="923.43" y="898.51" width="5.8" height="5.8"/><rect x="924.58" y="891.92" width="5.8" height="5.8"/><rect x="925.85" y="884.66" width="5.8" height="5.8"/><rect x="927.26" y="880.02" width="5.8" height="5.8"/><rect x="927.97" y="874.46" width="5.8" height="5.8"/><rect x="929.1" y="870.47" width="5.8" height="5.8"/><rect x="930.26" y="864.55" width="5.8" height="5.8"/><rect x="931.17" y="848.76" width="5.8" height="5.8"/><rect x="932.86" y="835.14" width="5.8" height="5.8"/><rect x="933.4" y="822.75" width="5.8" height="5.8"/><rect x="935.12" y="802.69" width="5.8" height="5.8"/><rect x="935.53" y="799.43" width="5.8" height="5.8"/><rect x="936.58" y="797.15" width="5.8" height="5.8"/><rect x="937.67" y="777.17" width="5.8" height="5.8"/><rect x="972.72" y="952.63" width="5.8" height="5.8"/><rect x="973.41" y="947.82" width="5.8" height="5.8"/><rect x="974.92" y="945.95" width="5.8" height="5.8"/><rect x="975.61" y="941.5" width="5.8" height="5.8"/><rect x="977.05" y="939.79" width="5.8" height="5.8"/><rect x="978.04" y="935.71" width="5.8" height="5.8"/><rect x="979.32" y="931.97" width="5.8" height="5.8"/><rect x="980.19" y="928.44" width="5.8" height="5.8"/><rect x="981.82" y="923.3" width="5.8" height="5.8"/><rect x="982.87" y="918.04" width="5.8" height="5.8"/><rect x="983.46" y="914.13" width="5.8" height="5.8"/><rect x="985.14" y="911.65" width="5.8" height="5.8"/><rect x="985.73" y="903.54" width="5.8" height="5.8"/><rect x="986.99" y="898.63" width="5.8" height="5.8"/><rect x="988.03" y="891.8" width="5.8" height="5.8"/><rect x="989.34" y="887.83" width="5.8" height="5.8"/><rect x="990.09" y="879.84" width="5.8" height="5.8"/><rect x="991.29" y="874.62" width="5.8" height="5.8"/><rect x="992.67" y="866.78" width="5.8" height="5.8"/><rect x="993.87" y="856.42" width="5.8" height="5.8"/><rect x="994.74" y="849.51" width="5.8" height="5.8"/><rect x="996.22" y="844.14" width="5.8" height="5.8"/><rect x="997.21" y="835.18" width="5.8" height="5.8"/><rect x="997.84" y="824.9" width="5.8" height="5.8"/><rect x="999" y="817.17" width="5.8" height="5.8"/><rect x="1000.27" y="811.59" width="5.8" height="5.8"/><rect x="1001.16" y="808.18" width="5.8" height="5.8"/><rect x="1002.62" y="804.41" width="5.8" height="5.8"/><rect x="1003.31" y="798.03" width="5.8" height="5.8"/><rect x="1004.47" y="794.24" width="5.8" height="5.8"/><rect x="1039.69" y="952.53" width="5.8" height="5.8"/><rect x="1040.88" y="951.55" width="5.8" height="5.8"/><rect x="1041.63" y="949.4" width="5.8" height="5.8"/><rect x="1043.13" y="949.68" width="5.8" height="5.8"/><rect x="1044.13" y="947.83" width="5.8" height="5.8"/><rect x="1044.75" y="944.22" width="5.8" height="5.8"/><rect x="1046.22" y="944.05" width="5.8" height="5.8"/><rect x="1047.71" y="940.77" width="5.8" height="5.8"/><rect x="1048.26" y="938.82" width="5.8" height="5.8"/><rect x="1049.56" y="937.04" width="5.8" height="5.8"/><rect x="1050.42" y="933.76" width="5.8" height="5.8"/><rect x="1051.97" y="930.84" width="5.8" height="5.8"/><rect x="1053.1" y="927.35" width="5.8" height="5.8"/><rect x="1053.85" y="922.89" width="5.8" height="5.8"/><rect x="1054.99" y="919.54" width="5.8" height="5.8"/><rect x="1055.87" y="913.68" width="5.8" height="5.8"/><rect x="1057.51" y="908.3" width="5.8" height="5.8"/><rect x="1058.07" y="901.08" width="5.8" height="5.8"/><rect x="1059.57" y="896.28" width="5.8" height="5.8"/><rect x="1061.02" y="892.21" width="5.8" height="5.8"/><rect x="1062.13" y="885.32" width="5.8" height="5.8"/><rect x="1062.51" y="872.55" width="5.8" height="5.8"/><rect x="1063.95" y="859.52" width="5.8" height="5.8"/><rect x="1065.02" y="843.92" width="5.8" height="5.8"/><rect x="1066.1" y="835.75" width="5.8" height="5.8"/><rect x="1067.41" y="829.63" width="5.8" height="5.8"/><rect x="1068.66" y="824.55" width="5.8" height="5.8"/><rect x="1069.18" y="817.18" width="5.8" height="5.8"/><rect x="1070.43" y="807.23" width="5.8" height="5.8"/><rect x="1071.6" y="801.27" width="5.8" height="5.8"/><rect x="1104.95" y="952.14" width="5.8" height="5.8"/><rect x="1106.34" y="951.72" width="5.8" height="5.8"/><rect x="1107.67" y="949.11" width="5.8" height="5.8"/><rect x="1108.41" y="948.26" width="5.8" height="5.8"/><rect x="1109.74" y="943.4" width="5.8" height="5.8"/><rect x="1110.78" y="941.35" width="5.8" height="5.8"/><rect x="1111.92" y="936.98" width="5.8" height="5.8"/><rect x="1113.08" y="933.3" width="5.8" height="5.8"/><rect x="1114.61" y="931.41" width="5.8" height="5.8"/><rect x="1115.34" y="922.15" width="5.8" height="5.8"/><rect x="1116.76" y="915.22" width="5.8" height="5.8"/><rect x="1117.31" y="910.19" width="5.8" height="5.8"/><rect x="1118.77" y="904.63" width="5.8" height="5.8"/><rect x="1119.88" y="899.12" width="5.8" height="5.8"/><rect x="1121.05" y="891.12" width="5.8" height="5.8"/><rect x="1121.83" y="887.08" width="5.8" height="5.8"/><rect x="1123.45" y="884.35" width="5.8" height="5.8"/><rect x="1124.14" y="874.56" width="5.8" height="5.8"/><rect x="1125.49" y="863.27" width="5.8" height="5.8"/><rect x="1126.44" y="854.13" width="5.8" height="5.8"/><rect x="1127.87" y="847.34" width="5.8" height="5.8"/><rect x="1128.67" y="837.5" width="5.8" height="5.8"/><rect x="1130.35" y="827.44" width="5.8" height="5.8"/><rect x="1130.99" y="819.25" width="5.8" height="5.8"/><rect x="1132.72" y="810.46" width="5.8" height="5.8"/><rect x="1133.48" y="802.81" width="5.8" height="5.8"/><rect x="1134.96" y="799.48" width="5.8" height="5.8"/><rect x="1136.07" y="796.57" width="5.8" height="5.8"/><rect x="1137.13" y="791.97" width="5.8" height="5.8"/><rect x="1138.23" y="785.53" width="5.8" height="5.8"/><rect x="1173.5" y="954.18" width="5.8" height="5.8"/><rect x="1174.35" y="949.37" width="5.8" height="5.8"/><rect x="1176.09" y="944.26" width="5.8" height="5.8"/><rect x="1176.99" y="938.9" width="5.8" height="5.8"/><rect x="1178.16" y="936.58" width="5.8" height="5.8"/><rect x="1179.19" y="933.17" width="5.8" height="5.8"/><rect x="1179.6" y="926.01" width="5.8" height="5.8"/><rect x="1181.26" y="916.96" width="5.8" height="5.8"/><rect x="1181.84" y="914.76" width="5.8" height="5.8"/><rect x="1182.73" y="909.58" width="5.8" height="5.8"/><rect x="1183.87" y="902.23" width="5.8" height="5.8"/><rect x="1184.81" y="897.03" width="5.8" height="5.8"/><rect x="1186.47" y="891.32" width="5.8" height="5.8"/><rect x="1186.99" y="886.84" width="5.8" height="5.8"/><rect x="1188.08" y="876.56" width="5.8" height="5.8"/><rect x="1189.02" y="866.5" width="5.8" height="5.8"/><rect x="1190.67" y="861.29" width="5.8" height="5.8"/><rect x="1191.68" y="854.63" width="5.8" height="5.8"/><rect x="1192.63" y="847.84" width="5.8" height="5.8"/><rect x="1193.48" y="844.9" width="5.8" height="5.8"/><rect x="1194.38" y="833.3" width="5.8" height="5.8"/><rect x="1195.59" y="823.56" width="5.8" height="5.8"/><rect x="1196.89" y="814.81" width="5.8" height="5.8"/><rect x="1198.03" y="806.02" width="5.8" height="5.8"/><rect x="1198.59" y="798.59" width="5.8" height="5.8"/><rect x="1199.53" y="794.89" width="5.8" height="5.8"/><rect x="1200.83" y="789.82" width="5.8" height="5.8"/><rect x="1202.02" y="786.25" width="5.8" height="5.8"/><rect x="1202.6" y="784.11" width="5.8" height="5.8"/><rect x="1203.54" y="782.27" width="5.8" height="5.8"/></g><g fill="none" stroke="#3b2b9b" stroke-width="2.2"><rect x="593.95" y="776.35" width="5.9" height="5.9"/><rect x="594.95" y="805.35" width="5.9" height="5.9"/><rect x="595.95" y="844.15" width="5.9" height="5.9"/><rect x="597.05" y="865.85" width="5.9" height="5.9"/><rect x="598.25" y="878.15" width="5.9" height="5.9"/><rect x="599.05" y="896.95" width="5.9" height="5.9"/><rect x="600.24" y="909.08" width="5.9" height="5.9"/><rect x="601.43" y="914.05" width="5.9" height="5.9"/><rect x="602.62" y="920.78" width="5.9" height="5.9"/><rect x="603.82" y="924.75" width="5.9" height="5.9"/><rect x="605.01" y="927.42" width="5.9" height="5.9"/><rect x="606.2" y="928.99" width="5.9" height="5.9"/><rect x="607.39" y="932.79" width="5.9" height="5.9"/><rect x="608.58" y="935.36" width="5.9" height="5.9"/><rect x="609.77" y="935.4" width="5.9" height="5.9"/><rect x="610.97" y="938.35" width="5.9" height="5.9"/><rect x="612.16" y="937.81" width="5.9" height="5.9"/><rect x="613.35" y="942.74" width="5.9" height="5.9"/><rect x="614.54" y="943.69" width="5.9" height="5.9"/><rect x="615.73" y="946.4" width="5.9" height="5.9"/><rect x="616.92" y="946.84" width="5.9" height="5.9"/><rect x="618.12" y="945.67" width="5.9" height="5.9"/><rect x="619.31" y="947.31" width="5.9" height="5.9"/><rect x="620.5" y="949.74" width="5.9" height="5.9"/><rect x="621.69" y="947.9" width="5.9" height="5.9"/><rect x="622.88" y="950.66" width="5.9" height="5.9"/><rect x="624.07" y="950.2" width="5.9" height="5.9"/><rect x="625.27" y="952.49" width="5.9" height="5.9"/><rect x="626.46" y="953.32" width="5.9" height="5.9"/><rect x="627.65" y="954.15" width="5.9" height="5.9"/><rect x="603.27" y="927.67" width="5.9" height="5.9"/><rect x="604.11" y="926.28" width="5.9" height="5.9"/><rect x="620.59" y="949.85" width="5.9" height="5.9"/><rect x="615.63" y="944.58" width="5.9" height="5.9"/><rect x="621.01" y="949.56" width="5.9" height="5.9"/><rect x="611.27" y="938.41" width="5.9" height="5.9"/><rect x="604.39" y="926.36" width="5.9" height="5.9"/><rect x="607.2" y="931.49" width="5.9" height="5.9"/><rect x="606.43" y="931.83" width="5.9" height="5.9"/><rect x="610.56" y="938.82" width="5.9" height="5.9"/><rect x="660.45" y="772.65" width="5.9" height="5.9"/><rect x="661.45" y="830.55" width="5.9" height="5.9"/><rect x="662.55" y="860.55" width="5.9" height="5.9"/><rect x="663.95" y="882.05" width="5.9" height="5.9"/><rect x="664.95" y="889.75" width="5.9" height="5.9"/><rect x="665.95" y="902.65" width="5.9" height="5.9"/><rect x="667.19" y="909.73" width="5.9" height="5.9"/><rect x="668.42" y="913.63" width="5.9" height="5.9"/><rect x="669.66" y="916.83" width="5.9" height="5.9"/><rect x="670.9" y="920.29" width="5.9" height="5.9"/><rect x="672.14" y="923.27" width="5.9" height="5.9"/><rect x="673.38" y="923.33" width="5.9" height="5.9"/><rect x="674.61" y="926.93" width="5.9" height="5.9"/><rect x="675.85" y="928.54" width="5.9" height="5.9"/><rect x="677.09" y="929.42" width="5.9" height="5.9"/><rect x="678.32" y="931.74" width="5.9" height="5.9"/><rect x="679.56" y="935.17" width="5.9" height="5.9"/><rect x="680.8" y="937.06" width="5.9" height="5.9"/><rect x="682.04" y="940.74" width="5.9" height="5.9"/><rect x="683.27" y="943.67" width="5.9" height="5.9"/><rect x="684.51" y="943.19" width="5.9" height="5.9"/><rect x="685.75" y="947.12" width="5.9" height="5.9"/><rect x="686.99" y="949.11" width="5.9" height="5.9"/><rect x="688.22" y="949.94" width="5.9" height="5.9"/><rect x="689.46" y="948.28" width="5.9" height="5.9"/><rect x="690.7" y="948.58" width="5.9" height="5.9"/><rect x="691.94" y="949.54" width="5.9" height="5.9"/><rect x="693.17" y="951.68" width="5.9" height="5.9"/><rect x="694.41" y="952.61" width="5.9" height="5.9"/><rect x="695.65" y="953.55" width="5.9" height="5.9"/><rect x="672.71" y="925.56" width="5.9" height="5.9"/><rect x="691.33" y="949.41" width="5.9" height="5.9"/><rect x="685.33" y="941.24" width="5.9" height="5.9"/><rect x="685.84" y="944.98" width="5.9" height="5.9"/><rect x="686.68" y="945" width="5.9" height="5.9"/><rect x="687.17" y="949.02" width="5.9" height="5.9"/><rect x="691.69" y="950.3" width="5.9" height="5.9"/><rect x="692.09" y="948.7" width="5.9" height="5.9"/><rect x="670.89" y="923.77" width="5.9" height="5.9"/><rect x="687.02" y="949.46" width="5.9" height="5.9"/><rect x="726.85" y="777.35" width="5.9" height="5.9"/><rect x="727.95" y="841.75" width="5.9" height="5.9"/><rect x="728.95" y="869.95" width="5.9" height="5.9"/><rect x="729.95" y="888.35" width="5.9" height="5.9"/><rect x="730.95" y="899.95" width="5.9" height="5.9"/><rect x="732.05" y="907.15" width="5.9" height="5.9"/><rect x="733.2" y="910.55" width="5.9" height="5.9"/><rect x="734.34" y="915.82" width="5.9" height="5.9"/><rect x="735.49" y="917.23" width="5.9" height="5.9"/><rect x="736.63" y="920.49" width="5.9" height="5.9"/><rect x="737.78" y="923.25" width="5.9" height="5.9"/><rect x="738.92" y="922.72" width="5.9" height="5.9"/><rect x="740.07" y="926.23" width="5.9" height="5.9"/><rect x="741.22" y="930.06" width="5.9" height="5.9"/><rect x="742.36" y="931.76" width="5.9" height="5.9"/><rect x="743.51" y="930.81" width="5.9" height="5.9"/><rect x="744.65" y="932.89" width="5.9" height="5.9"/><rect x="745.8" y="936.45" width="5.9" height="5.9"/><rect x="746.95" y="936.97" width="5.9" height="5.9"/><rect x="748.09" y="939.4" width="5.9" height="5.9"/><rect x="749.24" y="940.3" width="5.9" height="5.9"/><rect x="750.38" y="944.56" width="5.9" height="5.9"/><rect x="751.53" y="946.7" width="5.9" height="5.9"/><rect x="752.67" y="948.83" width="5.9" height="5.9"/><rect x="753.82" y="947.2" width="5.9" height="5.9"/><rect x="754.97" y="950.75" width="5.9" height="5.9"/><rect x="756.11" y="951.44" width="5.9" height="5.9"/><rect x="757.26" y="951.67" width="5.9" height="5.9"/><rect x="758.4" y="952.61" width="5.9" height="5.9"/><rect x="759.55" y="953.55" width="5.9" height="5.9"/><rect x="739.09" y="924" width="5.9" height="5.9"/><rect x="740.99" y="924.63" width="5.9" height="5.9"/><rect x="746.99" y="937.84" width="5.9" height="5.9"/><rect x="738.15" y="922.62" width="5.9" height="5.9"/><rect x="741.35" y="929.16" width="5.9" height="5.9"/><rect x="749.25" y="944.52" width="5.9" height="5.9"/><rect x="743.04" y="933.41" width="5.9" height="5.9"/><rect x="748.56" y="938.98" width="5.9" height="5.9"/><rect x="757.34" y="953.39" width="5.9" height="5.9"/><rect x="736.4" y="917.55" width="5.9" height="5.9"/><rect x="793.75" y="781.85" width="5.9" height="5.9"/><rect x="794.95" y="815.95" width="5.9" height="5.9"/><rect x="795.45" y="829.35" width="5.9" height="5.9"/><rect x="796.75" y="842.05" width="5.9" height="5.9"/><rect x="798.05" y="855.95" width="5.9" height="5.9"/><rect x="799.55" y="872.35" width="5.9" height="5.9"/><rect x="800.67" y="883.18" width="5.9" height="5.9"/><rect x="801.8" y="886.85" width="5.9" height="5.9"/><rect x="802.92" y="891.17" width="5.9" height="5.9"/><rect x="804.05" y="895.45" width="5.9" height="5.9"/><rect x="805.17" y="899.79" width="5.9" height="5.9"/><rect x="806.3" y="903.09" width="5.9" height="5.9"/><rect x="807.42" y="906.79" width="5.9" height="5.9"/><rect x="808.55" y="909.85" width="5.9" height="5.9"/><rect x="809.67" y="916.11" width="5.9" height="5.9"/><rect x="810.8" y="917.29" width="5.9" height="5.9"/><rect x="811.92" y="920.2" width="5.9" height="5.9"/><rect x="813.05" y="922.79" width="5.9" height="5.9"/><rect x="814.17" y="929.02" width="5.9" height="5.9"/><rect x="815.3" y="932.04" width="5.9" height="5.9"/><rect x="816.42" y="934.05" width="5.9" height="5.9"/><rect x="817.55" y="935.23" width="5.9" height="5.9"/><rect x="818.67" y="937.95" width="5.9" height="5.9"/><rect x="819.8" y="940.39" width="5.9" height="5.9"/><rect x="820.92" y="943" width="5.9" height="5.9"/><rect x="822.05" y="943.54" width="5.9" height="5.9"/><rect x="823.17" y="946.69" width="5.9" height="5.9"/><rect x="824.3" y="948.8" width="5.9" height="5.9"/><rect x="825.42" y="950.67" width="5.9" height="5.9"/><rect x="826.55" y="952.55" width="5.9" height="5.9"/><rect x="809.32" y="912.29" width="5.9" height="5.9"/><rect x="813.3" y="929.56" width="5.9" height="5.9"/><rect x="808.51" y="910.38" width="5.9" height="5.9"/><rect x="810.42" y="917.48" width="5.9" height="5.9"/><rect x="806.61" y="903.49" width="5.9" height="5.9"/><rect x="806.73" y="909.48" width="5.9" height="5.9"/><rect x="801.72" y="890.68" width="5.9" height="5.9"/><rect x="807.54" y="908.13" width="5.9" height="5.9"/><rect x="818.93" y="939.62" width="5.9" height="5.9"/><rect x="820.91" y="942.83" width="5.9" height="5.9"/><rect x="860.25" y="781.35" width="5.9" height="5.9"/><rect x="861.25" y="810.35" width="5.9" height="5.9"/><rect x="862.75" y="844.55" width="5.9" height="5.9"/><rect x="863.75" y="878.65" width="5.9" height="5.9"/><rect x="865.25" y="903.95" width="5.9" height="5.9"/><rect x="867.05" y="911.55" width="5.9" height="5.9"/><rect x="868.21" y="912.74" width="5.9" height="5.9"/><rect x="869.37" y="916.79" width="5.9" height="5.9"/><rect x="870.52" y="921.69" width="5.9" height="5.9"/><rect x="871.68" y="924.91" width="5.9" height="5.9"/><rect x="872.84" y="927.21" width="5.9" height="5.9"/><rect x="874" y="927.54" width="5.9" height="5.9"/><rect x="875.16" y="930.56" width="5.9" height="5.9"/><rect x="876.32" y="932.36" width="5.9" height="5.9"/><rect x="877.47" y="934.4" width="5.9" height="5.9"/><rect x="878.63" y="934.89" width="5.9" height="5.9"/><rect x="879.79" y="940.33" width="5.9" height="5.9"/><rect x="880.95" y="938.76" width="5.9" height="5.9"/><rect x="882.11" y="943.51" width="5.9" height="5.9"/><rect x="883.27" y="944.65" width="5.9" height="5.9"/><rect x="884.42" y="941.93" width="5.9" height="5.9"/><rect x="885.58" y="945.19" width="5.9" height="5.9"/><rect x="886.74" y="948.11" width="5.9" height="5.9"/><rect x="887.9" y="949.71" width="5.9" height="5.9"/><rect x="889.06" y="948.24" width="5.9" height="5.9"/><rect x="890.22" y="948.26" width="5.9" height="5.9"/><rect x="891.37" y="948.82" width="5.9" height="5.9"/><rect x="892.53" y="950.92" width="5.9" height="5.9"/><rect x="893.69" y="951.73" width="5.9" height="5.9"/><rect x="894.85" y="952.55" width="5.9" height="5.9"/><rect x="889.99" y="950.14" width="5.9" height="5.9"/><rect x="873.05" y="928.95" width="5.9" height="5.9"/><rect x="873.74" y="926.37" width="5.9" height="5.9"/><rect x="890.16" y="947.47" width="5.9" height="5.9"/><rect x="889.75" y="946.61" width="5.9" height="5.9"/><rect x="869.88" y="919.03" width="5.9" height="5.9"/><rect x="875.47" y="932.14" width="5.9" height="5.9"/><rect x="877.88" y="930.98" width="5.9" height="5.9"/><rect x="887.54" y="944.55" width="5.9" height="5.9"/><rect x="891.07" y="951.44" width="5.9" height="5.9"/><rect x="938.95" y="797.95" width="5.9" height="5.9"/><rect x="940.35" y="845.15" width="5.9" height="5.9"/><rect x="942.05" y="858.85" width="5.9" height="5.9"/><rect x="942.75" y="865.05" width="5.9" height="5.9"/><rect x="943.85" y="884.55" width="5.9" height="5.9"/><rect x="945.55" y="910.25" width="5.9" height="5.9"/><rect x="946.63" y="912.53" width="5.9" height="5.9"/><rect x="947.72" y="917.24" width="5.9" height="5.9"/><rect x="948.8" y="921.98" width="5.9" height="5.9"/><rect x="949.88" y="923.82" width="5.9" height="5.9"/><rect x="950.97" y="924.5" width="5.9" height="5.9"/><rect x="952.05" y="926.67" width="5.9" height="5.9"/><rect x="953.13" y="929.32" width="5.9" height="5.9"/><rect x="954.22" y="930.84" width="5.9" height="5.9"/><rect x="955.3" y="932.73" width="5.9" height="5.9"/><rect x="956.38" y="933.22" width="5.9" height="5.9"/><rect x="957.47" y="935.87" width="5.9" height="5.9"/><rect x="958.55" y="940.61" width="5.9" height="5.9"/><rect x="959.63" y="938.61" width="5.9" height="5.9"/><rect x="960.72" y="941.97" width="5.9" height="5.9"/><rect x="961.8" y="944.23" width="5.9" height="5.9"/><rect x="962.88" y="946.39" width="5.9" height="5.9"/><rect x="963.97" y="944.52" width="5.9" height="5.9"/><rect x="965.05" y="945.73" width="5.9" height="5.9"/><rect x="966.13" y="946.6" width="5.9" height="5.9"/><rect x="967.22" y="948.23" width="5.9" height="5.9"/><rect x="968.3" y="949.4" width="5.9" height="5.9"/><rect x="969.38" y="950.61" width="5.9" height="5.9"/><rect x="970.47" y="951.58" width="5.9" height="5.9"/><rect x="971.55" y="952.55" width="5.9" height="5.9"/><rect x="969.04" y="951.23" width="5.9" height="5.9"/><rect x="947.2" y="920.72" width="5.9" height="5.9"/><rect x="966.7" y="948.72" width="5.9" height="5.9"/><rect x="947.83" y="920.42" width="5.9" height="5.9"/><rect x="966.39" y="949.34" width="5.9" height="5.9"/><rect x="952.15" y="927.86" width="5.9" height="5.9"/><rect x="959.56" y="941.49" width="5.9" height="5.9"/><rect x="963.6" y="946.37" width="5.9" height="5.9"/><rect x="957.82" y="934.85" width="5.9" height="5.9"/><rect x="963.62" y="948.27" width="5.9" height="5.9"/><rect x="1006.15" y="780.75" width="5.9" height="5.9"/><rect x="1007.15" y="821.85" width="5.9" height="5.9"/><rect x="1008.85" y="863.95" width="5.9" height="5.9"/><rect x="1010.55" y="877.65" width="5.9" height="5.9"/><rect x="1012.25" y="887.95" width="5.9" height="5.9"/><rect x="1013.95" y="898.25" width="5.9" height="5.9"/><rect x="1014.95" y="899.55" width="5.9" height="5.9"/><rect x="1015.95" y="902.03" width="5.9" height="5.9"/><rect x="1016.95" y="904.95" width="5.9" height="5.9"/><rect x="1017.95" y="909.29" width="5.9" height="5.9"/><rect x="1018.95" y="914.07" width="5.9" height="5.9"/><rect x="1019.95" y="916.52" width="5.9" height="5.9"/><rect x="1020.95" y="918.37" width="5.9" height="5.9"/><rect x="1021.95" y="922.05" width="5.9" height="5.9"/><rect x="1022.95" y="924.28" width="5.9" height="5.9"/><rect x="1023.95" y="924.14" width="5.9" height="5.9"/><rect x="1024.95" y="925.85" width="5.9" height="5.9"/><rect x="1025.95" y="931.42" width="5.9" height="5.9"/><rect x="1026.95" y="932.85" width="5.9" height="5.9"/><rect x="1027.95" y="931.97" width="5.9" height="5.9"/><rect x="1028.95" y="937.02" width="5.9" height="5.9"/><rect x="1029.95" y="938.02" width="5.9" height="5.9"/><rect x="1030.95" y="940.27" width="5.9" height="5.9"/><rect x="1031.95" y="941.87" width="5.9" height="5.9"/><rect x="1032.95" y="942.9" width="5.9" height="5.9"/><rect x="1033.95" y="943.91" width="5.9" height="5.9"/><rect x="1034.95" y="946.86" width="5.9" height="5.9"/><rect x="1035.95" y="949.57" width="5.9" height="5.9"/><rect x="1036.95" y="951.31" width="5.9" height="5.9"/><rect x="1037.95" y="953.05" width="5.9" height="5.9"/><rect x="1024.46" y="920.87" width="5.9" height="5.9"/><rect x="1033.99" y="946.97" width="5.9" height="5.9"/><rect x="1033.09" y="942.58" width="5.9" height="5.9"/><rect x="1017.22" y="907.24" width="5.9" height="5.9"/><rect x="1033.08" y="945.51" width="5.9" height="5.9"/><rect x="1032.16" y="944.99" width="5.9" height="5.9"/><rect x="1032.74" y="940.3" width="5.9" height="5.9"/><rect x="1015.71" y="909.18" width="5.9" height="5.9"/><rect x="1022.03" y="920.18" width="5.9" height="5.9"/><rect x="1022.18" y="924.44" width="5.9" height="5.9"/><rect x="1072.85" y="794.85" width="5.9" height="5.9"/><rect x="1073.85" y="823.95" width="5.9" height="5.9"/><rect x="1074.95" y="848.55" width="5.9" height="5.9"/><rect x="1076.25" y="871.85" width="5.9" height="5.9"/><rect x="1077.35" y="882.85" width="5.9" height="5.9"/><rect x="1079.05" y="894.85" width="5.9" height="5.9"/><rect x="1080.1" y="896.68" width="5.9" height="5.9"/><rect x="1081.15" y="900.04" width="5.9" height="5.9"/><rect x="1082.2" y="903.18" width="5.9" height="5.9"/><rect x="1083.25" y="905.11" width="5.9" height="5.9"/><rect x="1084.3" y="910.41" width="5.9" height="5.9"/><rect x="1085.35" y="911.15" width="5.9" height="5.9"/><rect x="1086.4" y="912.13" width="5.9" height="5.9"/><rect x="1087.45" y="914.52" width="5.9" height="5.9"/><rect x="1088.5" y="919.23" width="5.9" height="5.9"/><rect x="1089.55" y="919.26" width="5.9" height="5.9"/><rect x="1090.6" y="920.54" width="5.9" height="5.9"/><rect x="1091.65" y="925.57" width="5.9" height="5.9"/><rect x="1092.7" y="927.39" width="5.9" height="5.9"/><rect x="1093.75" y="931.37" width="5.9" height="5.9"/><rect x="1094.8" y="929.95" width="5.9" height="5.9"/><rect x="1095.85" y="934.09" width="5.9" height="5.9"/><rect x="1096.9" y="938.1" width="5.9" height="5.9"/><rect x="1097.95" y="940.55" width="5.9" height="5.9"/><rect x="1099" y="943.21" width="5.9" height="5.9"/><rect x="1100.05" y="941.69" width="5.9" height="5.9"/><rect x="1101.1" y="945.14" width="5.9" height="5.9"/><rect x="1102.15" y="948.38" width="5.9" height="5.9"/><rect x="1103.2" y="950.72" width="5.9" height="5.9"/><rect x="1104.25" y="953.05" width="5.9" height="5.9"/><rect x="1083.04" y="910.44" width="5.9" height="5.9"/><rect x="1094.62" y="927.56" width="5.9" height="5.9"/><rect x="1098.88" y="940.25" width="5.9" height="5.9"/><rect x="1098.59" y="935.52" width="5.9" height="5.9"/><rect x="1093.95" y="927.41" width="5.9" height="5.9"/><rect x="1087.93" y="916.58" width="5.9" height="5.9"/><rect x="1087.01" y="914.26" width="5.9" height="5.9"/><rect x="1084.21" y="910.58" width="5.9" height="5.9"/><rect x="1094.3" y="931.82" width="5.9" height="5.9"/><rect x="1086.56" y="911.68" width="5.9" height="5.9"/><rect x="1139.55" y="776.75" width="5.9" height="5.9"/><rect x="1140.35" y="858.45" width="5.9" height="5.9"/><rect x="1141.55" y="876.05" width="5.9" height="5.9"/><rect x="1142.65" y="884.65" width="5.9" height="5.9"/><rect x="1143.65" y="892.85" width="5.9" height="5.9"/><rect x="1144.65" y="901.05" width="5.9" height="5.9"/><rect x="1145.82" y="907.38" width="5.9" height="5.9"/><rect x="1146.98" y="915.18" width="5.9" height="5.9"/><rect x="1148.15" y="920.44" width="5.9" height="5.9"/><rect x="1149.32" y="922.38" width="5.9" height="5.9"/><rect x="1150.48" y="926.69" width="5.9" height="5.9"/><rect x="1151.65" y="931.26" width="5.9" height="5.9"/><rect x="1152.82" y="934.86" width="5.9" height="5.9"/><rect x="1153.98" y="936.6" width="5.9" height="5.9"/><rect x="1155.15" y="937.79" width="5.9" height="5.9"/><rect x="1156.32" y="940.67" width="5.9" height="5.9"/><rect x="1157.48" y="943.97" width="5.9" height="5.9"/><rect x="1158.65" y="945.9" width="5.9" height="5.9"/><rect x="1159.82" y="943.3" width="5.9" height="5.9"/><rect x="1160.98" y="946.76" width="5.9" height="5.9"/><rect x="1162.15" y="948.78" width="5.9" height="5.9"/><rect x="1163.32" y="946.31" width="5.9" height="5.9"/><rect x="1164.48" y="950.36" width="5.9" height="5.9"/><rect x="1165.65" y="947.71" width="5.9" height="5.9"/><rect x="1166.82" y="950.36" width="5.9" height="5.9"/><rect x="1167.98" y="950.67" width="5.9" height="5.9"/><rect x="1169.15" y="951.53" width="5.9" height="5.9"/><rect x="1170.32" y="951.5" width="5.9" height="5.9"/><rect x="1171.48" y="952.02" width="5.9" height="5.9"/><rect x="1172.65" y="952.55" width="5.9" height="5.9"/><rect x="1154.07" y="938.18" width="5.9" height="5.9"/><rect x="1157.46" y="942.22" width="5.9" height="5.9"/><rect x="1155.84" y="943.36" width="5.9" height="5.9"/><rect x="1157.62" y="945.23" width="5.9" height="5.9"/><rect x="1164.8" y="947.46" width="5.9" height="5.9"/><rect x="1156.87" y="941.69" width="5.9" height="5.9"/><rect x="1155.87" y="942.31" width="5.9" height="5.9"/><rect x="1157.5" y="945.06" width="5.9" height="5.9"/><rect x="1149.99" y="925.06" width="5.9" height="5.9"/><rect x="1157.57" y="944.43" width="5.9" height="5.9"/><rect x="1205.95" y="776.75" width="5.9" height="5.9"/><rect x="1206.95" y="820.25" width="5.9" height="5.9"/><rect x="1207.95" y="850.95" width="5.9" height="5.9"/><rect x="1208.95" y="861.75" width="5.9" height="5.9"/><rect x="1210.45" y="877.45" width="5.9" height="5.9"/><rect x="1212.05" y="884.65" width="5.9" height="5.9"/><rect x="1213.16" y="887.79" width="5.9" height="5.9"/><rect x="1214.27" y="896.42" width="5.9" height="5.9"/><rect x="1215.38" y="905.87" width="5.9" height="5.9"/><rect x="1216.48" y="907.49" width="5.9" height="5.9"/><rect x="1217.59" y="911.68" width="5.9" height="5.9"/><rect x="1218.7" y="914.68" width="5.9" height="5.9"/><rect x="1219.81" y="917.32" width="5.9" height="5.9"/><rect x="1220.92" y="921.11" width="5.9" height="5.9"/><rect x="1222.02" y="925.27" width="5.9" height="5.9"/><rect x="1223.13" y="929.83" width="5.9" height="5.9"/><rect x="1224.24" y="931.24" width="5.9" height="5.9"/><rect x="1225.35" y="933.81" width="5.9" height="5.9"/><rect x="1226.46" y="937.65" width="5.9" height="5.9"/><rect x="1227.57" y="935.94" width="5.9" height="5.9"/><rect x="1228.67" y="938.01" width="5.9" height="5.9"/><rect x="1229.78" y="941.53" width="5.9" height="5.9"/><rect x="1230.89" y="940.41" width="5.9" height="5.9"/><rect x="1232" y="941.97" width="5.9" height="5.9"/><rect x="1233.11" y="945.17" width="5.9" height="5.9"/><rect x="1234.22" y="945.72" width="5.9" height="5.9"/><rect x="1235.32" y="948.29" width="5.9" height="5.9"/><rect x="1236.43" y="950.29" width="5.9" height="5.9"/><rect x="1237.54" y="951.67" width="5.9" height="5.9"/><rect x="1238.65" y="953.05" width="5.9" height="5.9"/><rect x="1219.73" y="918.89" width="5.9" height="5.9"/><rect x="1219.43" y="916.84" width="5.9" height="5.9"/><rect x="1218.89" y="909.62" width="5.9" height="5.9"/><rect x="1216.67" y="912.86" width="5.9" height="5.9"/><rect x="1234.1" y="945.53" width="5.9" height="5.9"/><rect x="1218.87" y="921.97" width="5.9" height="5.9"/><rect x="1226.23" y="936.96" width="5.9" height="5.9"/><rect x="1225.46" y="932.52" width="5.9" height="5.9"/><rect x="1221.21" y="917.86" width="5.9" height="5.9"/><rect x="1225.74" y="933.78" width="5.9" height="5.9"/></g><line x1="551.2" y1="755.7" x2="896.6" y2="755.7" stroke="#000" stroke-width="1.8"/><line x1="906.6" y1="755.7" x2="1252.4" y2="755.7" stroke="#000" stroke-width="1.8"/><line x1="551.2" y1="970.4" x2="896.6" y2="970.4" stroke="#000" stroke-width="1.8"/><line x1="906.6" y1="970.4" x2="1252.4" y2="970.4" stroke="#000" stroke-width="1.8"/><line x1="551.2" y1="754.8000000000001" x2="551.2" y2="971.3" stroke="#000" stroke-width="1.8"/><line x1="1252.4" y1="754.8000000000001" x2="1252.4" y2="971.3" stroke="#3b2b9b" stroke-width="1.8"/><line x1="894" y1="760" x2="899" y2="751.4" stroke="#000" stroke-width="1.3"/><line x1="904" y1="760" x2="909" y2="751.4" stroke="#000" stroke-width="1.3"/><line x1="894" y1="974.7" x2="899" y2="966.1" stroke="#000" stroke-width="1.3"/><line x1="904" y1="974.7" x2="909" y2="966.1" stroke="#000" stroke-width="1.3"/><line x1="544" y1="970.4" x2="551.2" y2="970.4" stroke="#000" stroke-width="1.6"/><text transform="translate(538.5,976.5) scale(1,1.1)" text-anchor="end" style="font-family:'Liberation Sans',sans-serif;font-size:20.8px;fill:#000;stroke:#000;stroke-width:0.3px">0</text><line x1="544" y1="925.17" x2="551.2" y2="925.17" stroke="#000" stroke-width="1.6"/><text transform="translate(538.5,931.27) scale(1,1.1)" text-anchor="end" style="font-family:'Liberation Sans',sans-serif;font-size:20.8px;fill:#000;stroke:#000;stroke-width:0.3px">-400</text><line x1="544" y1="879.95" x2="551.2" y2="879.95" stroke="#000" stroke-width="1.6"/><text transform="translate(538.5,886.05) scale(1,1.1)" text-anchor="end" style="font-family:'Liberation Sans',sans-serif;font-size:20.8px;fill:#000;stroke:#000;stroke-width:0.3px">-800</text><line x1="544" y1="834.73" x2="551.2" y2="834.73" stroke="#000" stroke-width="1.6"/><text transform="translate(538.5,840.83) scale(1,1.1)" text-anchor="end" style="font-family:'Liberation Sans',sans-serif;font-size:20.8px;fill:#000;stroke:#000;stroke-width:0.3px">-1200</text><line x1="544" y1="789.5" x2="551.2" y2="789.5" stroke="#000" stroke-width="1.6"/><text transform="translate(538.5,795.6) scale(1,1.1)" text-anchor="end" style="font-family:'Liberation Sans',sans-serif;font-size:20.8px;fill:#000;stroke:#000;stroke-width:0.3px">-1600</text><line x1="547.4" y1="947.79" x2="551.2" y2="947.79" stroke="#000" stroke-width="1.6"/><line x1="547.4" y1="902.56" x2="551.2" y2="902.56" stroke="#000" stroke-width="1.6"/><line x1="547.4" y1="857.34" x2="551.2" y2="857.34" stroke="#000" stroke-width="1.6"/><line x1="547.4" y1="812.11" x2="551.2" y2="812.11" stroke="#000" stroke-width="1.6"/><line x1="547.4" y1="766.89" x2="551.2" y2="766.89" stroke="#000" stroke-width="1.6"/><line x1="1245.1" y1="969.6" x2="1252.4" y2="969.6" stroke="#3b2b9b" stroke-width="1.6"/><text transform="translate(1259.6,975.7) scale(1,1.1)" style="font-family:'Liberation Sans',sans-serif;font-size:20.8px;fill:#3b2b9b;stroke:#3b2b9b;stroke-width:0.3px">0</text><line x1="1245.1" y1="925.6" x2="1252.4" y2="925.6" stroke="#3b2b9b" stroke-width="1.6"/><text transform="translate(1259.6,931.7) scale(1,1.1)" style="font-family:'Liberation Sans',sans-serif;font-size:20.8px;fill:#3b2b9b;stroke:#3b2b9b;stroke-width:0.3px">350</text><line x1="1245.1" y1="881.6" x2="1252.4" y2="881.6" stroke="#3b2b9b" stroke-width="1.6"/><text transform="translate(1259.6,887.7) scale(1,1.1)" style="font-family:'Liberation Sans',sans-serif;font-size:20.8px;fill:#3b2b9b;stroke:#3b2b9b;stroke-width:0.3px">700</text><line x1="1245.1" y1="837.6" x2="1252.4" y2="837.6" stroke="#3b2b9b" stroke-width="1.6"/><text transform="translate(1259.6,843.7) scale(1,1.1)" style="font-family:'Liberation Sans',sans-serif;font-size:20.8px;fill:#3b2b9b;stroke:#3b2b9b;stroke-width:0.3px">1050</text><line x1="1245.1" y1="793.6" x2="1252.4" y2="793.6" stroke="#3b2b9b" stroke-width="1.6"/><text transform="translate(1259.6,799.7) scale(1,1.1)" style="font-family:'Liberation Sans',sans-serif;font-size:20.8px;fill:#3b2b9b;stroke:#3b2b9b;stroke-width:0.3px">1400</text><line x1="1248.6" y1="947.6" x2="1252.4" y2="947.6" stroke="#3b2b9b" stroke-width="1.6"/><line x1="1248.6" y1="903.6" x2="1252.4" y2="903.6" stroke="#3b2b9b" stroke-width="1.6"/><line x1="1248.6" y1="859.6" x2="1252.4" y2="859.6" stroke="#3b2b9b" stroke-width="1.6"/><line x1="1248.6" y1="815.6" x2="1252.4" y2="815.6" stroke="#3b2b9b" stroke-width="1.6"/><line x1="1248.6" y1="771.6" x2="1252.4" y2="771.6" stroke="#3b2b9b" stroke-width="1.6"/><line x1="562.2" y1="970.4" x2="562.2" y2="978.4" stroke="#000" stroke-width="1.6"/><text transform="translate(562.2,1005.5) scale(1,1.1)" text-anchor="middle" style="font-family:'Liberation Sans',sans-serif;font-size:20.8px;fill:#000;stroke:#000;stroke-width:0.3px">0</text><line x1="673.25" y1="970.4" x2="673.25" y2="978.4" stroke="#000" stroke-width="1.6"/><text transform="translate(673.25,1005.5) scale(1,1.1)" text-anchor="middle" style="font-family:'Liberation Sans',sans-serif;font-size:20.8px;fill:#000;stroke:#000;stroke-width:0.3px">100</text><line x1="784.3" y1="970.4" x2="784.3" y2="978.4" stroke="#000" stroke-width="1.6"/><text transform="translate(784.3,1005.5) scale(1,1.1)" text-anchor="middle" style="font-family:'Liberation Sans',sans-serif;font-size:20.8px;fill:#000;stroke:#000;stroke-width:0.3px">200</text><line x1="617.73" y1="970.4" x2="617.73" y2="974.4" stroke="#000" stroke-width="1.6"/><line x1="728.78" y1="970.4" x2="728.78" y2="974.4" stroke="#000" stroke-width="1.6"/><line x1="839.83" y1="970.4" x2="839.83" y2="974.4" stroke="#000" stroke-width="1.6"/><line x1="1019.3" y1="970.4" x2="1019.3" y2="978.4" stroke="#000" stroke-width="1.6"/><text transform="translate(1019.3,1005.5) scale(1,1.1)" text-anchor="middle" style="font-family:'Liberation Sans',sans-serif;font-size:20.8px;fill:#000;stroke:#000;stroke-width:0.3px">3700</text><line x1="1130.25" y1="970.4" x2="1130.25" y2="978.4" stroke="#000" stroke-width="1.6"/><text transform="translate(1130.25,1005.5) scale(1,1.1)" text-anchor="middle" style="font-family:'Liberation Sans',sans-serif;font-size:20.8px;fill:#000;stroke:#000;stroke-width:0.3px">3800</text><line x1="1241.2" y1="970.4" x2="1241.2" y2="978.4" stroke="#000" stroke-width="1.6"/><text transform="translate(1241.2,1005.5) scale(1,1.1)" text-anchor="middle" style="font-family:'Liberation Sans',sans-serif;font-size:20.8px;fill:#000;stroke:#000;stroke-width:0.3px">3900</text><line x1="963.82" y1="970.4" x2="963.82" y2="974.4" stroke="#000" stroke-width="1.6"/><line x1="1074.77" y1="970.4" x2="1074.77" y2="974.4" stroke="#000" stroke-width="1.6"/><line x1="1185.72" y1="970.4" x2="1185.72" y2="974.4" stroke="#000" stroke-width="1.6"/><text transform="translate(829.2,1027.7) scale(1,1.04)" style="font-family:'Liberation Sans',sans-serif;font-size:24px;fill:#000;stroke:#000;stroke-width:0.3px">Pulse number</text><text transform="translate(479.5,868.7) rotate(-90)" text-anchor="middle" style="font-family:'Liberation Sans',sans-serif;font-size:24.2px;fill:#000;stroke:#000;stroke-width:0.3px">Current (nA)</text><text transform="translate(1333.1,868.3) rotate(-90)" text-anchor="middle" style="font-family:'Liberation Sans',sans-serif;font-size:24.2px;fill:#3b2b9b;stroke:#3b2b9b;stroke-width:0.3px">Current (nA)</text><text x="461.4" y="755.8" style="font-family:'Liberation Sans',sans-serif;font-size:23.5px;font-weight:bold">e</text></svg></body></html>
